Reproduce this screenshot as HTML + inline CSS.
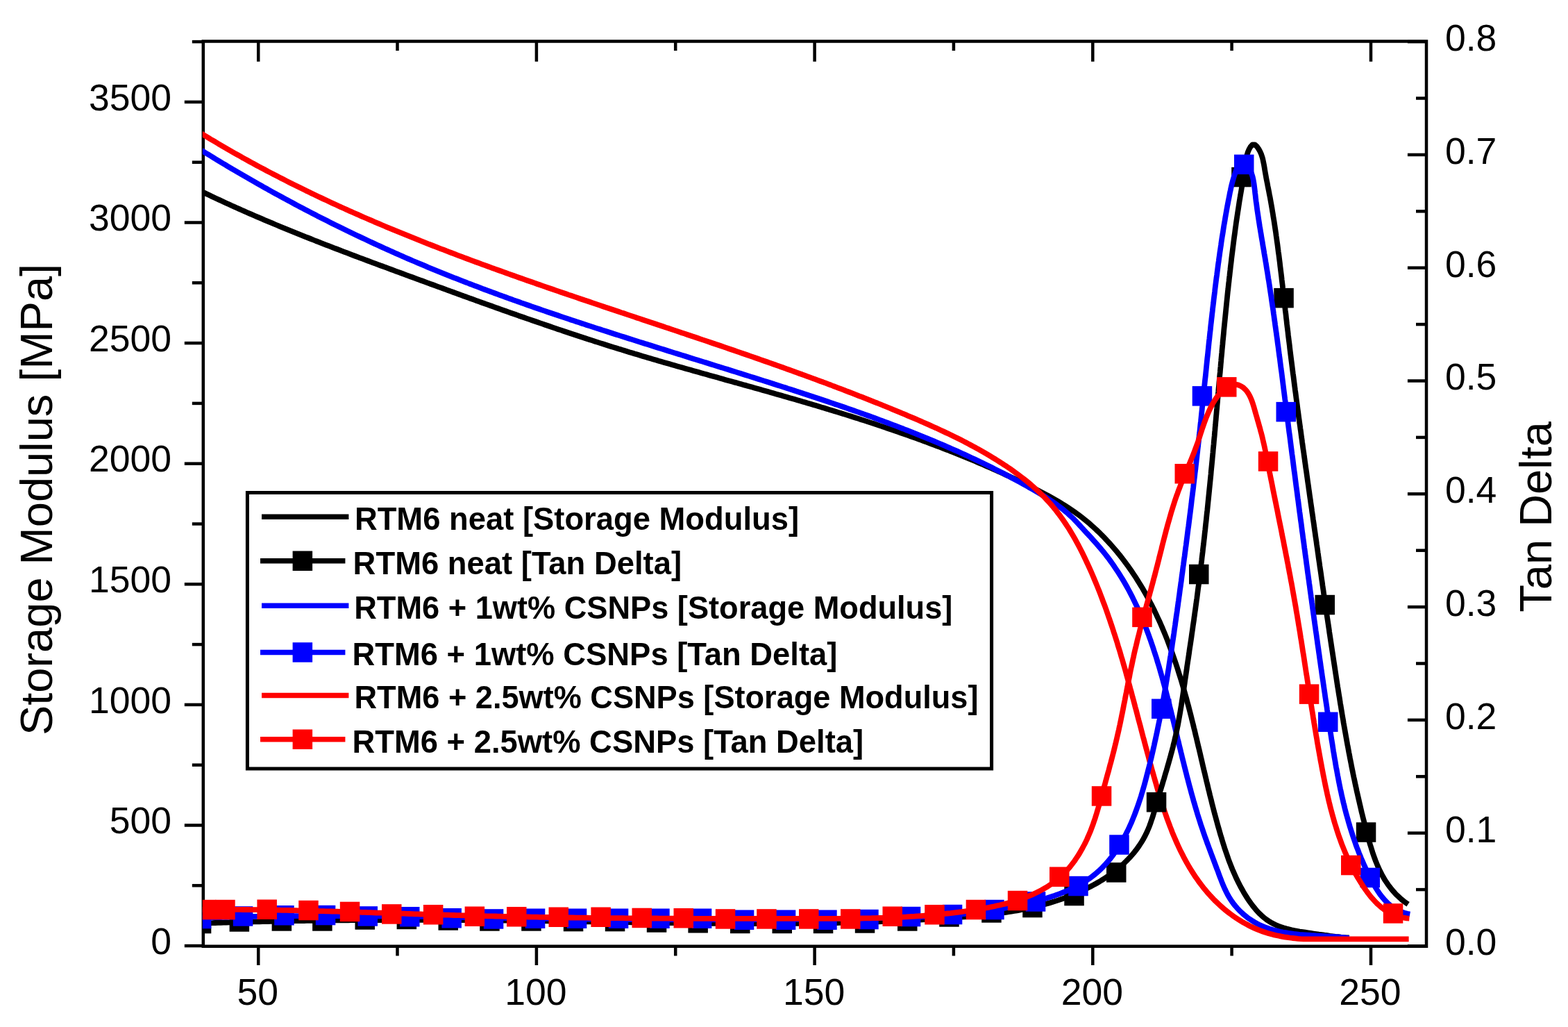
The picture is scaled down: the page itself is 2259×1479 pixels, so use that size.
<!DOCTYPE html>
<html><head><meta charset="utf-8"><title>DMA plot</title>
<style>html,body{margin:0;padding:0;background:#fff;width:2259px;height:1479px;overflow:hidden}svg{display:block}text{font-family:"Liberation Sans",Arial,sans-serif}</style></head><body>
<svg width="2259" height="1479" viewBox="0 0 2259 1479">
<rect width="2259" height="1479" fill="#fff"/>
<defs><clipPath id="pa"><rect x="291.8" y="59.5" width="1763.2" height="1303.3"/></clipPath></defs>
<g stroke="#000" stroke-width="4.5" fill="none" stroke-linecap="square">
<rect x="292.8" y="59.5" width="1762.2" height="1303.3"/>
</g>
<g stroke="#000" stroke-width="4.5" fill="none" stroke-linecap="butt">
<line x1="372.2" y1="1362.8" x2="372.2" y2="1390.0"/><line x1="372.2" y1="59.5" x2="372.2" y2="88.7"/><line x1="572.5" y1="1362.8" x2="572.5" y2="1376.5"/><line x1="572.5" y1="59.5" x2="572.5" y2="73.0"/><line x1="772.9" y1="1362.8" x2="772.9" y2="1390.0"/><line x1="772.9" y1="59.5" x2="772.9" y2="88.7"/><line x1="973.2" y1="1362.8" x2="973.2" y2="1376.5"/><line x1="973.2" y1="59.5" x2="973.2" y2="73.0"/><line x1="1173.6" y1="1362.8" x2="1173.6" y2="1390.0"/><line x1="1173.6" y1="59.5" x2="1173.6" y2="88.7"/><line x1="1373.9" y1="1362.8" x2="1373.9" y2="1376.5"/><line x1="1373.9" y1="59.5" x2="1373.9" y2="73.0"/><line x1="1574.3" y1="1362.8" x2="1574.3" y2="1390.0"/><line x1="1574.3" y1="59.5" x2="1574.3" y2="88.7"/><line x1="1774.6" y1="1362.8" x2="1774.6" y2="1376.5"/><line x1="1774.6" y1="59.5" x2="1774.6" y2="73.0"/><line x1="1975.0" y1="1362.8" x2="1975.0" y2="1390.0"/><line x1="1975.0" y1="59.5" x2="1975.0" y2="88.7"/>
<line x1="265.8" y1="1362.1" x2="292.8" y2="1362.1"/><line x1="276.8" y1="1275.3" x2="292.8" y2="1275.3"/><line x1="265.8" y1="1188.5" x2="292.8" y2="1188.5"/><line x1="276.8" y1="1101.7" x2="292.8" y2="1101.7"/><line x1="265.8" y1="1014.9" x2="292.8" y2="1014.9"/><line x1="276.8" y1="928.1" x2="292.8" y2="928.1"/><line x1="265.8" y1="841.3" x2="292.8" y2="841.3"/><line x1="276.8" y1="754.5" x2="292.8" y2="754.5"/><line x1="265.8" y1="667.7" x2="292.8" y2="667.7"/><line x1="276.8" y1="580.9" x2="292.8" y2="580.9"/><line x1="265.8" y1="494.1" x2="292.8" y2="494.1"/><line x1="276.8" y1="407.3" x2="292.8" y2="407.3"/><line x1="265.8" y1="320.5" x2="292.8" y2="320.5"/><line x1="276.8" y1="233.7" x2="292.8" y2="233.7"/><line x1="265.8" y1="146.9" x2="292.8" y2="146.9"/><line x1="276.8" y1="60.1" x2="292.8" y2="60.1"/>
<line x1="2027.9" y1="1362.5" x2="2055.0" y2="1362.5"/><line x1="2040.0" y1="1281.1" x2="2055.0" y2="1281.1"/><line x1="2027.9" y1="1199.7" x2="2055.0" y2="1199.7"/><line x1="2040.0" y1="1118.3" x2="2055.0" y2="1118.3"/><line x1="2027.9" y1="1036.9" x2="2055.0" y2="1036.9"/><line x1="2040.0" y1="955.5" x2="2055.0" y2="955.5"/><line x1="2027.9" y1="874.1" x2="2055.0" y2="874.1"/><line x1="2040.0" y1="792.7" x2="2055.0" y2="792.7"/><line x1="2027.9" y1="711.3" x2="2055.0" y2="711.3"/><line x1="2040.0" y1="629.9" x2="2055.0" y2="629.9"/><line x1="2027.9" y1="548.5" x2="2055.0" y2="548.5"/><line x1="2040.0" y1="467.1" x2="2055.0" y2="467.1"/><line x1="2027.9" y1="385.7" x2="2055.0" y2="385.7"/><line x1="2040.0" y1="304.3" x2="2055.0" y2="304.3"/><line x1="2027.9" y1="222.9" x2="2055.0" y2="222.9"/><line x1="2040.0" y1="141.5" x2="2055.0" y2="141.5"/><line x1="2027.9" y1="60.1" x2="2055.0" y2="60.1"/>
</g>
<g clip-path="url(#pa)" fill="none" stroke-linejoin="round" stroke-linecap="butt">
<path d="M290.1,275.7 293.7,277.4 297.3,279.1 300.9,280.8 304.5,282.6 308.1,284.3 311.8,286.0 315.4,287.6 319.0,289.3 322.6,291.0 326.3,292.7 329.9,294.3 333.5,296.0 337.2,297.6 340.8,299.2 344.5,300.9 348.1,302.5 351.8,304.1 355.4,305.7 359.1,307.3 362.8,308.9 366.4,310.5 370.1,312.1 373.8,313.7 377.4,315.2 381.1,316.8 384.8,318.3 388.5,319.9 392.2,321.4 395.8,323.0 399.5,324.5 403.2,326.1 406.9,327.6 410.6,329.1 414.3,330.6 418.0,332.1 421.7,333.6 425.4,335.1 429.1,336.6 432.8,338.1 436.5,339.6 440.2,341.1 443.9,342.5 447.7,344.0 451.4,345.5 455.1,347.0 458.8,348.4 462.5,349.9 466.2,351.3 470.0,352.8 473.7,354.2 477.4,355.6 481.1,357.1 484.9,358.5 488.6,359.9 492.3,361.4 496.1,362.8 499.8,364.2 503.5,365.6 507.3,367.1 511.0,368.5 514.7,369.9 518.5,371.3 522.2,372.7 526.0,374.1 529.7,375.5 533.4,376.9 537.2,378.3 540.9,379.7 544.7,381.1 548.4,382.5 552.2,383.8 555.9,385.2 559.7,386.6 563.4,388.0 567.2,389.4 570.9,390.8 574.7,392.2 578.4,393.5 582.1,394.9 585.9,396.3 589.6,397.7 593.4,399.0 597.1,400.4 600.9,401.8 604.6,403.2 608.4,404.5 612.1,405.9 615.9,407.3 619.6,408.7 623.4,410.0 627.1,411.4 630.9,412.8 634.7,414.2 638.4,415.5 642.2,416.9 645.9,418.3 649.7,419.6 653.4,421.0 657.2,422.4 660.9,423.7 664.7,425.1 668.4,426.5 672.2,427.8 675.9,429.2 679.7,430.5 683.5,431.9 687.2,433.3 691.0,434.6 694.7,436.0 698.5,437.3 702.3,438.7 706.0,440.0 709.8,441.3 713.5,442.7 717.3,444.0 721.1,445.4 724.8,446.7 728.6,448.0 732.4,449.4 736.1,450.7 739.9,452.0 743.7,453.3 747.4,454.7 751.2,456.0 755.0,457.3 758.7,458.6 762.5,459.9 766.3,461.2 770.1,462.5 773.8,463.8 777.6,465.1 781.4,466.4 785.2,467.7 789.0,469.0 792.7,470.3 796.5,471.6 800.3,472.9 804.1,474.2 807.9,475.4 811.7,476.7 815.5,478.0 819.2,479.2 823.0,480.5 826.8,481.7 830.6,483.0 834.4,484.3 838.2,485.5 842.0,486.7 845.8,488.0 849.6,489.2 853.4,490.4 857.2,491.7 861.0,492.9 864.8,494.1 868.6,495.3 872.4,496.5 876.2,497.7 880.1,498.9 883.9,500.1 887.7,501.3 891.5,502.5 895.3,503.6 899.1,504.8 903.0,506.0 906.8,507.2 910.6,508.3 914.4,509.5 918.2,510.6 922.1,511.8 925.9,512.9 929.7,514.0 933.6,515.2 937.4,516.3 941.2,517.4 945.1,518.5 948.9,519.7 952.7,520.8 956.6,521.9 960.4,523.0 964.2,524.1 968.1,525.2 971.9,526.3 975.8,527.4 979.6,528.5 983.4,529.6 987.3,530.7 991.1,531.8 995.0,532.8 998.8,533.9 1002.7,535.0 1006.5,536.1 1010.4,537.2 1014.2,538.3 1018.1,539.3 1021.9,540.4 1025.7,541.5 1029.6,542.6 1033.4,543.6 1037.3,544.7 1041.1,545.8 1045.0,546.9 1048.8,547.9 1052.7,549.0 1056.5,550.1 1060.4,551.1 1064.2,552.2 1068.1,553.3 1071.9,554.4 1075.8,555.4 1079.6,556.5 1083.5,557.6 1087.3,558.7 1091.2,559.8 1095.0,560.8 1098.8,561.9 1102.7,563.0 1106.5,564.1 1110.4,565.2 1114.2,566.3 1118.1,567.4 1121.9,568.5 1125.7,569.6 1129.6,570.7 1133.4,571.8 1137.3,572.9 1141.1,574.0 1144.9,575.1 1148.8,576.2 1152.6,577.3 1156.4,578.4 1160.3,579.6 1164.1,580.7 1167.9,581.8 1171.8,583.0 1175.6,584.1 1179.4,585.2 1183.2,586.4 1187.1,587.5 1190.9,588.7 1194.7,589.9 1198.5,591.0 1202.4,592.2 1206.2,593.4 1210.0,594.6 1213.8,595.7 1217.6,596.9 1221.4,598.1 1225.2,599.3 1229.0,600.5 1232.9,601.7 1236.7,602.9 1240.5,604.2 1244.3,605.4 1248.1,606.6 1251.9,607.9 1255.7,609.1 1259.5,610.3 1263.3,611.6 1267.0,612.9 1270.8,614.1 1274.6,615.4 1278.4,616.7 1282.2,618.0 1286.0,619.2 1289.7,620.5 1293.5,621.9 1297.3,623.2 1301.1,624.5 1304.8,625.8 1308.6,627.1 1312.4,628.5 1316.1,629.8 1319.9,631.2 1323.6,632.5 1327.4,633.9 1331.1,635.3 1334.9,636.7 1338.6,638.1 1342.4,639.5 1346.1,640.9 1349.8,642.3 1353.6,643.7 1357.3,645.1 1361.0,646.6 1364.8,648.0 1368.5,649.5 1372.2,650.9 1375.9,652.4 1379.6,653.9 1383.3,655.4 1387.0,656.9 1390.7,658.4 1394.4,659.9 1398.1,661.5 1401.8,663.0 1405.5,664.5 1409.1,666.1 1412.8,667.7 1416.5,669.2 1420.2,670.8 1423.8,672.4 1427.5,674.0 1431.1,675.6 1434.8,677.3 1438.4,678.9 1442.1,680.5 1445.7,682.2 1449.3,683.9 1453.0,685.5 1456.6,687.2 1460.2,688.9 1463.8,690.6 1467.4,692.4 1471.0,694.1 1474.6,695.8 1478.2,697.6 1481.8,699.4 1485.4,701.1 1488.9,702.9 1492.5,704.7 1496.0,706.5 1499.6,708.4 1503.1,710.2 1506.7,712.1 1510.2,714.0 1513.7,715.9 1517.2,717.9 1520.6,719.8 1524.1,721.9 1527.5,723.9 1530.9,726.0 1534.3,728.1 1537.7,730.2 1541.0,732.4 1544.3,734.7 1547.6,736.9 1550.9,739.3 1554.1,741.6 1557.3,744.0 1560.4,746.5 1563.5,749.0 1566.6,751.5 1569.7,754.1 1572.7,756.8 1575.6,759.4 1578.6,762.1 1581.5,764.9 1584.4,767.6 1587.2,770.5 1590.0,773.3 1592.8,776.2 1595.5,779.1 1598.2,782.0 1600.9,785.0 1603.5,788.0 1606.1,791.0 1608.7,794.1 1611.3,797.2 1613.8,800.3 1616.2,803.4 1618.7,806.6 1621.1,809.8 1623.4,813.0 1625.8,816.2 1628.1,819.5 1630.4,822.8 1632.6,826.1 1634.8,829.4 1637.0,832.7 1639.1,836.1 1641.2,839.5 1643.3,842.9 1645.4,846.3 1647.4,849.8 1649.4,853.3 1651.3,856.7 1653.3,860.2 1655.2,863.7 1657.0,867.3 1658.9,870.8 1660.7,874.4 1662.5,878.0 1664.2,881.6 1665.9,885.2 1667.6,888.8 1669.3,892.4 1671.0,896.0 1672.6,899.7 1674.2,903.4 1675.7,907.0 1677.3,910.7 1678.8,914.4 1680.3,918.1 1681.8,921.8 1683.2,925.5 1684.6,929.3 1686.0,933.0 1687.4,936.8 1688.8,940.5 1690.1,944.3 1691.4,948.1 1692.7,951.8 1694.0,955.6 1695.3,959.4 1696.5,963.2 1697.7,967.0 1698.9,970.8 1700.1,974.6 1701.3,978.4 1702.5,982.3 1703.6,986.1 1704.7,989.9 1705.8,993.8 1706.9,997.6 1708.0,1001.5 1709.1,1005.3 1710.1,1009.2 1711.1,1013.0 1712.2,1016.9 1713.2,1020.7 1714.2,1024.6 1715.2,1028.5 1716.2,1032.4 1717.1,1036.2 1718.1,1040.1 1719.1,1044.0 1720.0,1047.9 1721.0,1051.7 1721.9,1055.6 1722.8,1059.5 1723.8,1063.4 1724.7,1067.3 1725.6,1071.2 1726.5,1075.1 1727.5,1078.9 1728.4,1082.8 1729.3,1086.7 1730.2,1090.6 1731.1,1094.5 1732.0,1098.4 1732.9,1102.3 1733.8,1106.2 1734.7,1110.1 1735.7,1113.9 1736.6,1117.8 1737.5,1121.7 1738.4,1125.6 1739.4,1129.5 1740.3,1133.4 1741.2,1137.3 1742.2,1141.1 1743.1,1145.0 1744.1,1148.9 1745.1,1152.8 1746.0,1156.6 1747.0,1160.5 1748.0,1164.4 1749.0,1168.2 1750.0,1172.1 1751.1,1176.0 1752.1,1179.8 1753.2,1183.7 1754.2,1187.5 1755.3,1191.4 1756.4,1195.2 1757.5,1199.1 1758.6,1202.9 1759.8,1206.7 1760.9,1210.5 1762.1,1214.4 1763.3,1218.2 1764.5,1222.0 1765.8,1225.8 1767.1,1229.5 1768.4,1233.3 1769.7,1237.1 1771.1,1240.8 1772.6,1244.6 1774.0,1248.3 1775.5,1252.0 1777.1,1255.6 1778.7,1259.3 1780.3,1262.9 1782.0,1266.6 1783.8,1270.2 1785.6,1273.7 1787.4,1277.3 1789.4,1280.8 1791.3,1284.2 1793.4,1287.7 1795.5,1291.1 1797.6,1294.4 1799.9,1297.7 1802.2,1301.0 1804.6,1304.2 1807.1,1307.3 1809.6,1310.4 1812.3,1313.3 1815.1,1316.2 1818.0,1318.9 1821.0,1321.5 1824.2,1324.0 1827.5,1326.3 1830.9,1328.4 1834.4,1330.3 1838.0,1332.0 1841.6,1333.6 1845.4,1335.0 1849.2,1336.2 1853.0,1337.3 1856.9,1338.3 1860.8,1339.3 1864.7,1340.1 1868.6,1340.8 1872.5,1341.5 1876.5,1342.1 1880.4,1342.7 1884.4,1343.3 1888.3,1343.9 1892.3,1344.5 1896.2,1345.0 1900.2,1345.6 1904.2,1346.1 1908.1,1346.7 1912.1,1347.2 1916.0,1347.8 1920.0,1348.3 1924.0,1348.8 1927.9,1349.2 1931.9,1349.7 1935.9,1350.1 1939.8,1350.5 1943.8,1350.5" stroke="#000" stroke-width="7.8"/>
<path d="M290.2,216.5 293.6,218.6 297.0,220.7 300.4,222.7 303.8,224.8 307.2,226.9 310.6,229.0 314.1,231.1 317.5,233.1 320.9,235.2 324.3,237.2 327.8,239.3 331.2,241.3 334.6,243.4 338.1,245.4 341.5,247.4 345.0,249.4 348.4,251.4 351.9,253.4 355.4,255.4 358.8,257.4 362.3,259.4 365.8,261.4 369.2,263.4 372.7,265.4 376.2,267.3 379.7,269.3 383.2,271.2 386.6,273.2 390.1,275.1 393.6,277.1 397.1,279.0 400.6,280.9 404.1,282.8 407.7,284.7 411.2,286.6 414.7,288.5 418.2,290.4 421.7,292.3 425.2,294.2 428.8,296.1 432.3,298.0 435.8,299.8 439.4,301.7 442.9,303.5 446.5,305.4 450.0,307.2 453.6,309.0 457.1,310.9 460.7,312.7 464.2,314.5 467.8,316.3 471.4,318.1 475.0,319.9 478.5,321.7 482.1,323.5 485.7,325.2 489.3,327.0 492.9,328.8 496.4,330.5 500.0,332.3 503.6,334.0 507.2,335.8 510.8,337.5 514.4,339.2 518.1,340.9 521.7,342.6 525.3,344.3 528.9,346.0 532.5,347.7 536.1,349.4 539.8,351.1 543.4,352.8 547.0,354.4 550.7,356.1 554.3,357.7 558.0,359.4 561.6,361.0 565.2,362.6 568.9,364.3 572.6,365.9 576.2,367.5 579.9,369.1 583.5,370.7 587.2,372.3 590.9,373.9 594.5,375.5 598.2,377.0 601.9,378.6 605.6,380.1 609.3,381.7 612.9,383.2 616.6,384.8 620.3,386.3 624.0,387.8 627.7,389.3 631.4,390.8 635.1,392.3 638.8,393.8 642.5,395.3 646.3,396.8 650.0,398.3 653.7,399.8 657.4,401.2 661.1,402.7 664.8,404.1 668.6,405.6 672.3,407.0 676.0,408.5 679.8,409.9 683.5,411.3 687.2,412.7 691.0,414.1 694.7,415.6 698.4,417.0 702.2,418.4 705.9,419.7 709.7,421.1 713.4,422.5 717.2,423.9 720.9,425.3 724.7,426.6 728.5,428.0 732.2,429.4 736.0,430.7 739.7,432.1 743.5,433.4 747.3,434.7 751.0,436.1 754.8,437.4 758.6,438.7 762.3,440.0 766.1,441.4 769.9,442.7 773.7,444.0 777.4,445.3 781.2,446.6 785.0,447.9 788.8,449.2 792.6,450.5 796.4,451.8 800.1,453.0 803.9,454.3 807.7,455.6 811.5,456.9 815.3,458.1 819.1,459.4 822.9,460.7 826.7,461.9 830.5,463.2 834.3,464.4 838.1,465.7 841.8,466.9 845.6,468.2 849.4,469.4 853.2,470.6 857.0,471.9 860.8,473.1 864.6,474.3 868.5,475.6 872.3,476.8 876.1,478.0 879.9,479.2 883.7,480.5 887.5,481.7 891.3,482.9 895.1,484.1 898.9,485.3 902.7,486.5 906.5,487.7 910.3,488.9 914.1,490.1 918.0,491.4 921.8,492.6 925.6,493.8 929.4,495.0 933.2,496.1 937.0,497.3 940.8,498.5 944.6,499.7 948.5,500.9 952.3,502.1 956.1,503.3 959.9,504.5 963.7,505.7 967.5,506.9 971.3,508.1 975.2,509.3 979.0,510.4 982.8,511.6 986.6,512.8 990.4,514.0 994.2,515.2 998.1,516.4 1001.9,517.6 1005.7,518.8 1009.5,519.9 1013.3,521.1 1017.1,522.3 1021.0,523.5 1024.8,524.7 1028.6,525.9 1032.4,527.1 1036.2,528.3 1040.0,529.4 1043.8,530.6 1047.7,531.8 1051.5,533.0 1055.3,534.2 1059.1,535.4 1062.9,536.6 1066.7,537.8 1070.5,539.0 1074.4,540.2 1078.2,541.4 1082.0,542.6 1085.8,543.8 1089.6,545.0 1093.4,546.2 1097.2,547.4 1101.0,548.6 1104.8,549.8 1108.7,551.0 1112.5,552.2 1116.3,553.5 1120.1,554.7 1123.9,555.9 1127.7,557.1 1131.5,558.3 1135.3,559.6 1139.1,560.8 1142.9,562.0 1146.7,563.3 1150.5,564.5 1154.3,565.7 1158.1,567.0 1161.9,568.2 1165.7,569.5 1169.5,570.7 1173.3,572.0 1177.1,573.2 1180.9,574.5 1184.7,575.8 1188.4,577.0 1192.2,578.3 1196.0,579.6 1199.8,580.9 1203.6,582.2 1207.4,583.4 1211.2,584.7 1214.9,586.0 1218.7,587.3 1222.5,588.7 1226.3,590.0 1230.0,591.3 1233.8,592.6 1237.6,593.9 1241.3,595.3 1245.1,596.6 1248.9,598.0 1252.6,599.3 1256.4,600.7 1260.1,602.0 1263.9,603.4 1267.6,604.8 1271.4,606.2 1275.1,607.6 1278.9,609.0 1282.6,610.4 1286.4,611.8 1290.1,613.2 1293.8,614.6 1297.6,616.1 1301.3,617.5 1305.0,619.0 1308.7,620.4 1312.5,621.9 1316.2,623.4 1319.9,624.8 1323.6,626.3 1327.3,627.8 1331.0,629.3 1334.7,630.8 1338.4,632.4 1342.1,633.9 1345.8,635.4 1349.5,637.0 1353.1,638.5 1356.8,640.1 1360.5,641.7 1364.2,643.3 1367.8,644.9 1371.5,646.5 1375.1,648.1 1378.8,649.7 1382.4,651.3 1386.1,653.0 1389.7,654.6 1393.3,656.3 1397.0,658.0 1400.6,659.7 1404.2,661.4 1407.8,663.1 1411.4,664.8 1415.0,666.5 1418.6,668.3 1422.2,670.0 1425.8,671.8 1429.4,673.6 1433.0,675.4 1436.5,677.2 1440.1,679.0 1443.6,680.8 1447.2,682.6 1450.7,684.5 1454.3,686.3 1457.8,688.2 1461.3,690.1 1464.9,692.0 1468.4,693.9 1471.9,695.8 1475.4,697.7 1478.9,699.7 1482.3,701.7 1485.8,703.6 1489.3,705.6 1492.7,707.6 1496.2,709.6 1499.6,711.7 1503.0,713.8 1506.4,715.9 1509.8,718.0 1513.1,720.2 1516.4,722.5 1519.7,724.7 1523.0,727.1 1526.2,729.5 1529.3,731.9 1532.5,734.4 1535.5,736.9 1538.6,739.6 1541.5,742.3 1544.4,745.0 1547.3,747.8 1550.0,750.7 1552.8,753.6 1555.5,756.5 1558.2,759.5 1560.9,762.4 1563.6,765.3 1566.3,768.3 1569.1,771.2 1571.8,774.1 1574.4,777.1 1577.1,780.1 1579.8,783.1 1582.4,786.1 1585.0,789.1 1587.6,792.2 1590.1,795.3 1592.6,798.4 1595.0,801.5 1597.5,804.7 1599.8,807.9 1602.2,811.2 1604.5,814.5 1606.7,817.8 1608.9,821.1 1611.1,824.4 1613.3,827.8 1615.4,831.2 1617.5,834.6 1619.5,838.0 1621.5,841.5 1623.5,845.0 1625.4,848.5 1627.3,852.0 1629.1,855.5 1631.0,859.1 1632.7,862.7 1634.5,866.3 1636.2,869.9 1637.9,873.5 1639.6,877.1 1641.2,880.8 1642.8,884.4 1644.4,888.1 1645.9,891.8 1647.5,895.5 1649.0,899.2 1650.4,902.9 1651.9,906.6 1653.3,910.4 1654.7,914.1 1656.0,917.9 1657.4,921.6 1658.7,925.4 1660.0,929.2 1661.3,933.0 1662.5,936.8 1663.7,940.6 1665.0,944.4 1666.2,948.2 1667.3,952.0 1668.5,955.8 1669.7,959.7 1670.8,963.5 1671.9,967.3 1673.0,971.2 1674.1,975.0 1675.2,978.9 1676.2,982.7 1677.3,986.6 1678.3,990.4 1679.4,994.3 1680.4,998.2 1681.4,1002.0 1682.4,1005.9 1683.4,1009.8 1684.4,1013.6 1685.3,1017.5 1686.3,1021.4 1687.3,1025.3 1688.2,1029.2 1689.2,1033.0 1690.1,1036.9 1691.1,1040.8 1692.0,1044.7 1693.0,1048.6 1693.9,1052.5 1694.9,1056.3 1695.8,1060.2 1696.7,1064.1 1697.7,1068.0 1698.6,1071.9 1699.5,1075.8 1700.5,1079.6 1701.4,1083.5 1702.4,1087.4 1703.3,1091.3 1704.3,1095.2 1705.3,1099.1 1706.2,1102.9 1707.2,1106.8 1708.2,1110.7 1709.2,1114.6 1710.1,1118.4 1711.2,1122.3 1712.2,1126.2 1713.2,1130.0 1714.2,1133.9 1715.3,1137.7 1716.3,1141.6 1717.4,1145.5 1718.5,1149.3 1719.5,1153.1 1720.7,1157.0 1721.8,1160.8 1722.9,1164.7 1724.1,1168.5 1725.2,1172.3 1726.4,1176.1 1727.6,1179.9 1728.8,1183.7 1730.0,1187.5 1731.3,1191.3 1732.6,1195.1 1733.9,1198.9 1735.2,1202.7 1736.5,1206.5 1737.9,1210.2 1739.2,1214.0 1740.6,1217.7 1742.0,1221.5 1743.4,1225.2 1744.8,1229.0 1746.2,1232.7 1747.6,1236.4 1749.0,1240.2 1750.4,1243.9 1751.8,1247.7 1753.2,1251.4 1754.7,1255.1 1756.0,1258.9 1757.4,1262.6 1758.9,1266.4 1760.3,1270.1 1761.8,1273.8 1763.4,1277.5 1765.0,1281.1 1766.8,1284.7 1768.6,1288.2 1770.6,1291.7 1772.7,1295.1 1774.9,1298.4 1777.3,1301.7 1779.8,1304.8 1782.4,1307.8 1785.1,1310.7 1788.0,1313.5 1790.9,1316.2 1794.0,1318.8 1797.1,1321.3 1800.3,1323.6 1803.7,1325.8 1807.1,1327.9 1810.6,1329.9 1814.1,1331.7 1817.8,1333.4 1821.4,1334.9 1825.2,1336.3 1829.0,1337.6 1832.8,1338.8 1836.6,1339.9 1840.5,1340.8 1844.4,1341.7 1848.3,1342.5 1852.3,1343.2 1856.2,1343.8 1860.2,1344.4 1864.1,1344.9 1868.1,1345.3 1872.1,1345.8 1876.1,1346.1 1880.0,1346.4 1884.0,1346.7 1888.0,1347.0 1892.0,1347.2 1896.0,1347.5 1900.0,1347.7 1904.0,1347.9 1908.0,1348.1 1912.0,1348.3 1915.9,1348.6 1919.9,1348.8 1923.9,1349.1 1927.9,1349.4 1931.9,1349.8 1935.9,1350.2 1939.8,1350.6 1943.8,1351.0" stroke="#00f" stroke-width="7.8"/>
<path d="M290.3,192.4 293.7,194.5 297.1,196.5 300.5,198.6 303.9,200.7 307.3,202.7 310.8,204.7 314.2,206.8 317.7,208.8 321.1,210.8 324.6,212.8 328.0,214.8 331.5,216.8 334.9,218.8 338.4,220.8 341.9,222.7 345.4,224.7 348.8,226.7 352.3,228.6 355.8,230.5 359.3,232.5 362.8,234.4 366.3,236.3 369.8,238.2 373.4,240.1 376.9,242.0 380.4,243.8 383.9,245.7 387.5,247.6 391.0,249.4 394.5,251.3 398.1,253.1 401.6,254.9 405.2,256.8 408.8,258.6 412.3,260.4 415.9,262.2 419.4,264.0 423.0,265.8 426.6,267.5 430.2,269.3 433.8,271.1 437.3,272.8 440.9,274.6 444.5,276.3 448.1,278.1 451.7,279.8 455.3,281.5 458.9,283.2 462.5,284.9 466.1,286.6 469.8,288.3 473.4,290.0 477.0,291.7 480.6,293.4 484.3,295.0 487.9,296.7 491.5,298.4 495.2,300.0 498.8,301.6 502.4,303.3 506.1,304.9 509.7,306.5 513.4,308.1 517.1,309.7 520.7,311.4 524.4,313.0 528.0,314.5 531.7,316.1 535.4,317.7 539.0,319.3 542.7,320.8 546.4,322.4 550.1,324.0 553.7,325.5 557.4,327.1 561.1,328.6 564.8,330.1 568.5,331.7 572.2,333.2 575.9,334.7 579.6,336.2 583.3,337.7 587.0,339.2 590.7,340.7 594.4,342.2 598.1,343.7 601.8,345.2 605.5,346.7 609.2,348.1 612.9,349.6 616.6,351.1 620.3,352.5 624.1,354.0 627.8,355.4 631.5,356.9 635.2,358.3 639.0,359.7 642.7,361.2 646.4,362.6 650.1,364.0 653.9,365.4 657.6,366.9 661.4,368.3 665.1,369.7 668.8,371.1 672.6,372.5 676.3,373.9 680.1,375.3 683.8,376.7 687.5,378.0 691.3,379.4 695.0,380.8 698.8,382.2 702.5,383.5 706.3,384.9 710.0,386.3 713.8,387.6 717.6,389.0 721.3,390.3 725.1,391.7 728.8,393.0 732.6,394.4 736.4,395.7 740.1,397.0 743.9,398.4 747.6,399.7 751.4,401.0 755.2,402.4 758.9,403.7 762.7,405.0 766.5,406.3 770.3,407.6 774.0,409.0 777.8,410.3 781.6,411.6 785.3,412.9 789.1,414.2 792.9,415.5 796.7,416.8 800.4,418.1 804.2,419.4 808.0,420.7 811.8,422.0 815.6,423.3 819.3,424.6 823.1,425.8 826.9,427.1 830.7,428.4 834.5,429.7 838.2,431.0 842.0,432.3 845.8,433.5 849.6,434.8 853.4,436.1 857.2,437.4 860.9,438.6 864.7,439.9 868.5,441.2 872.3,442.5 876.1,443.7 879.9,445.0 883.7,446.3 887.4,447.5 891.2,448.8 895.0,450.1 898.8,451.3 902.6,452.6 906.4,453.9 910.2,455.1 914.0,456.4 917.7,457.7 921.5,458.9 925.3,460.2 929.1,461.5 932.9,462.7 936.7,464.0 940.5,465.2 944.3,466.5 948.0,467.8 951.8,469.0 955.6,470.3 959.4,471.6 963.2,472.8 967.0,474.1 970.8,475.4 974.6,476.6 978.3,477.9 982.1,479.2 985.9,480.4 989.7,481.7 993.5,483.0 997.3,484.3 1001.1,485.5 1004.8,486.8 1008.6,488.1 1012.4,489.4 1016.2,490.6 1020.0,491.9 1023.8,493.2 1027.5,494.5 1031.3,495.8 1035.1,497.0 1038.9,498.3 1042.7,499.6 1046.4,500.9 1050.2,502.2 1054.0,503.5 1057.8,504.8 1061.5,506.1 1065.3,507.4 1069.1,508.7 1072.9,510.0 1076.6,511.3 1080.4,512.6 1084.2,513.9 1088.0,515.2 1091.7,516.5 1095.5,517.9 1099.3,519.2 1103.0,520.5 1106.8,521.8 1110.6,523.2 1114.3,524.5 1118.1,525.8 1121.9,527.2 1125.6,528.5 1129.4,529.8 1133.1,531.2 1136.9,532.5 1140.7,533.9 1144.4,535.2 1148.2,536.6 1151.9,538.0 1155.7,539.3 1159.4,540.7 1163.2,542.1 1166.9,543.4 1170.7,544.8 1174.4,546.2 1178.2,547.6 1181.9,549.0 1185.7,550.3 1189.4,551.7 1193.1,553.1 1196.9,554.5 1200.6,556.0 1204.4,557.4 1208.1,558.8 1211.8,560.2 1215.6,561.6 1219.3,563.1 1223.0,564.5 1226.7,565.9 1230.5,567.4 1234.2,568.8 1237.9,570.3 1241.6,571.7 1245.3,573.2 1249.0,574.6 1252.8,576.1 1256.5,577.6 1260.2,579.1 1263.9,580.5 1267.6,582.0 1271.3,583.5 1275.0,585.0 1278.7,586.5 1282.4,588.0 1286.1,589.6 1289.8,591.1 1293.5,592.6 1297.2,594.1 1300.8,595.7 1304.5,597.2 1308.2,598.8 1311.9,600.3 1315.6,601.9 1319.2,603.4 1322.9,605.0 1326.6,606.6 1330.2,608.2 1333.9,609.8 1337.5,611.4 1341.2,613.1 1344.8,614.7 1348.5,616.3 1352.1,618.0 1355.7,619.7 1359.3,621.4 1362.9,623.1 1366.6,624.8 1370.1,626.5 1373.7,628.3 1377.3,630.0 1380.9,631.8 1384.5,633.6 1388.0,635.4 1391.6,637.3 1395.1,639.1 1398.6,641.0 1402.1,642.9 1405.7,644.8 1409.1,646.7 1412.6,648.7 1416.1,650.7 1419.6,652.7 1423.0,654.7 1426.4,656.7 1429.9,658.8 1433.3,660.9 1436.7,663.0 1440.0,665.1 1443.4,667.2 1446.7,669.4 1450.1,671.6 1453.4,673.9 1456.7,676.1 1459.9,678.4 1463.2,680.8 1466.4,683.1 1469.6,685.5 1472.8,688.0 1475.9,690.4 1479.0,692.9 1482.1,695.4 1485.2,698.0 1488.2,700.6 1491.2,703.3 1494.1,706.0 1497.0,708.7 1499.9,711.5 1502.8,714.3 1505.6,717.1 1508.3,720.0 1511.0,722.9 1513.7,725.9 1516.3,728.9 1518.8,732.0 1521.4,735.1 1523.8,738.3 1526.2,741.4 1528.6,744.7 1530.9,747.9 1533.2,751.2 1535.4,754.5 1537.6,757.8 1539.8,761.2 1541.9,764.6 1543.9,768.0 1546.0,771.5 1548.0,774.9 1549.9,778.4 1551.8,781.9 1553.7,785.4 1555.6,789.0 1557.4,792.5 1559.2,796.1 1561.0,799.7 1562.7,803.2 1564.4,806.9 1566.1,810.5 1567.8,814.1 1569.4,817.7 1571.1,821.4 1572.7,825.0 1574.3,828.7 1575.8,832.4 1577.4,836.1 1578.9,839.7 1580.4,843.4 1581.9,847.1 1583.4,850.8 1584.9,854.6 1586.3,858.3 1587.7,862.0 1589.1,865.8 1590.5,869.5 1591.9,873.2 1593.3,877.0 1594.6,880.8 1595.9,884.5 1597.2,888.3 1598.6,892.1 1599.8,895.9 1601.1,899.6 1602.4,903.4 1603.6,907.2 1604.8,911.0 1606.1,914.8 1607.3,918.6 1608.5,922.4 1609.7,926.2 1610.8,930.1 1612.0,933.9 1613.2,937.7 1614.3,941.5 1615.4,945.4 1616.6,949.2 1617.7,953.0 1618.8,956.9 1619.9,960.7 1621.0,964.5 1622.1,968.4 1623.1,972.2 1624.2,976.1 1625.3,979.9 1626.3,983.8 1627.4,987.6 1628.4,991.5 1629.5,995.3 1630.5,999.2 1631.5,1003.1 1632.6,1006.9 1633.6,1010.8 1634.6,1014.6 1635.6,1018.5 1636.7,1022.3 1637.7,1026.2 1638.7,1030.1 1639.7,1033.9 1640.7,1037.8 1641.8,1041.7 1642.8,1045.5 1643.8,1049.4 1644.8,1053.2 1645.8,1057.1 1646.8,1061.0 1647.9,1064.8 1648.9,1068.7 1649.9,1072.5 1650.9,1076.4 1652.0,1080.3 1653.0,1084.1 1654.1,1088.0 1655.1,1091.8 1656.1,1095.7 1657.2,1099.5 1658.3,1103.4 1659.3,1107.2 1660.4,1111.1 1661.5,1114.9 1662.6,1118.8 1663.7,1122.6 1664.8,1126.4 1665.9,1130.3 1667.0,1134.1 1668.1,1137.9 1669.3,1141.8 1670.4,1145.6 1671.6,1149.4 1672.8,1153.2 1674.0,1157.0 1675.3,1160.8 1676.5,1164.6 1677.8,1168.4 1679.1,1172.2 1680.4,1175.9 1681.7,1179.7 1683.1,1183.4 1684.5,1187.2 1685.9,1190.9 1687.4,1194.6 1688.8,1198.4 1690.3,1202.0 1691.9,1205.7 1693.5,1209.4 1695.1,1213.1 1696.7,1216.7 1698.4,1220.3 1700.1,1223.9 1701.9,1227.5 1703.7,1231.1 1705.5,1234.6 1707.4,1238.1 1709.3,1241.6 1711.3,1245.1 1713.3,1248.6 1715.4,1252.0 1717.5,1255.4 1719.6,1258.7 1721.8,1262.1 1724.1,1265.3 1726.4,1268.6 1728.8,1271.8 1731.2,1275.0 1733.6,1278.2 1736.2,1281.3 1738.7,1284.3 1741.4,1287.3 1744.0,1290.3 1746.8,1293.2 1749.5,1296.1 1752.4,1298.9 1755.3,1301.6 1758.2,1304.3 1761.2,1307.0 1764.2,1309.6 1767.3,1312.1 1770.5,1314.6 1773.7,1317.0 1776.9,1319.3 1780.2,1321.6 1783.5,1323.8 1786.9,1325.9 1790.3,1328.0 1793.8,1329.9 1797.3,1331.8 1800.8,1333.7 1804.4,1335.4 1808.1,1337.1 1811.7,1338.6 1815.5,1340.1 1819.2,1341.5 1823.0,1342.8 1826.8,1343.9 1830.6,1345.0 1834.5,1346.1 1838.4,1347.0 1842.3,1347.8 1846.2,1348.6 1850.1,1349.3 1854.1,1349.9 1858.0,1350.5 1862.0,1351.0 1866.0,1351.4 1869.9,1351.8 1873.9,1352.1 1877.9,1352.3 1881.9,1352.3 1885.9,1352.3 1889.9,1352.3 1893.9,1352.3 1897.9,1352.3 1901.9,1352.3 1905.8,1352.3 1909.8,1352.3 1913.8,1352.3 1917.8,1352.3 1921.8,1352.3 1925.8,1352.3 1929.8,1352.3 1933.8,1352.3 1937.8,1352.3 1941.8,1352.3 1945.8,1352.3 1949.8,1352.3 1953.8,1352.3 1957.7,1352.3 1961.7,1352.3 1965.7,1352.3 1969.7,1352.3 1973.7,1352.3 1977.7,1352.3 1981.7,1352.3 1985.7,1352.3 1989.7,1352.3 1993.7,1352.3 1997.7,1352.3 2001.7,1352.3 2005.7,1352.3 2009.6,1352.3 2013.6,1352.3 2017.6,1352.3 2021.6,1352.3 2025.6,1352.3 2029.6,1352.3" stroke="#f00" stroke-width="7.8"/>
<path d="M290.0,1329.7 294.0,1329.6 298.0,1329.4 302.0,1329.3 306.0,1329.2 310.0,1329.0 314.0,1328.9 318.0,1328.8 322.0,1328.7 326.0,1328.5 330.0,1328.4 334.0,1328.3 338.0,1328.2 342.0,1328.1 346.0,1328.0 350.0,1327.9 354.0,1327.7 358.0,1327.6 362.0,1327.5 366.0,1327.4 370.0,1327.3 374.0,1327.3 378.0,1327.2 382.0,1327.1 386.0,1327.0 390.0,1326.9 394.0,1326.8 398.0,1326.7 402.0,1326.6 406.0,1326.6 410.0,1326.5 414.0,1326.4 418.0,1326.3 422.0,1326.3 425.9,1326.2 429.9,1326.1 433.9,1326.1 437.9,1326.0 441.9,1325.9 445.9,1325.9 449.9,1325.8 453.9,1325.8 457.9,1325.7 461.9,1325.7 465.9,1325.6 469.9,1325.6 473.9,1325.5 477.9,1325.5 481.9,1325.4 485.9,1325.4 489.9,1325.4 493.9,1325.3 497.9,1325.3 501.9,1325.3 505.9,1325.2 509.9,1325.2 513.9,1325.2 517.9,1325.1 521.9,1325.1 525.9,1325.1 529.9,1325.1 533.9,1325.0 537.9,1325.0 541.9,1325.0 545.9,1325.0 549.9,1325.0 553.9,1325.0 557.9,1324.9 561.9,1324.9 565.9,1324.9 569.9,1324.9 573.9,1324.9 577.9,1324.9 581.9,1324.9 585.9,1324.9 589.9,1324.9 593.9,1324.9 597.9,1324.9 601.9,1324.9 605.9,1324.9 609.9,1324.9 613.9,1324.9 617.9,1324.9 621.9,1325.0 625.9,1325.0 629.9,1325.0 633.9,1325.0 637.9,1325.0 641.9,1325.0 645.9,1325.1 649.9,1325.1 653.9,1325.1 657.9,1325.1 661.9,1325.1 665.9,1325.2 669.9,1325.2 673.9,1325.2 677.9,1325.2 681.9,1325.3 685.9,1325.3 689.9,1325.3 693.9,1325.4 697.9,1325.4 701.9,1325.4 705.9,1325.5 709.9,1325.5 713.9,1325.5 717.9,1325.6 721.9,1325.6 725.9,1325.7 729.9,1325.7 733.9,1325.7 737.9,1325.8 741.9,1325.8 745.9,1325.9 749.9,1325.9 753.9,1326.0 757.9,1326.0 761.9,1326.1 765.9,1326.1 769.9,1326.2 773.9,1326.2 777.9,1326.3 781.9,1326.3 785.9,1326.4 789.9,1326.4 793.9,1326.5 797.9,1326.5 801.9,1326.6 805.9,1326.6 809.9,1326.7 813.9,1326.8 817.9,1326.8 821.9,1326.9 825.9,1326.9 829.9,1327.0 833.9,1327.1 837.9,1327.1 841.9,1327.2 845.9,1327.3 849.9,1327.3 853.9,1327.4 857.9,1327.4 861.9,1327.5 865.9,1327.6 869.9,1327.6 873.9,1327.7 877.9,1327.8 881.9,1327.8 885.9,1327.9 889.9,1328.0 893.9,1328.0 897.9,1328.1 901.9,1328.2 905.9,1328.2 909.9,1328.3 913.9,1328.3 917.9,1328.4 921.9,1328.5 925.9,1328.5 929.9,1328.6 933.9,1328.7 937.9,1328.7 941.9,1328.8 945.9,1328.8 949.9,1328.9 953.8,1329.0 957.8,1329.0 961.8,1329.1 965.8,1329.1 969.8,1329.2 973.8,1329.2 977.8,1329.3 981.8,1329.3 985.8,1329.4 989.8,1329.4 993.8,1329.5 997.8,1329.5 1001.8,1329.6 1005.8,1329.6 1009.8,1329.7 1013.8,1329.7 1017.8,1329.7 1021.8,1329.8 1025.8,1329.8 1029.8,1329.8 1033.8,1329.9 1037.8,1329.9 1041.8,1329.9 1045.8,1330.0 1049.8,1330.0 1053.8,1330.0 1057.8,1330.0 1061.8,1330.0 1065.8,1330.1 1069.8,1330.1 1073.8,1330.1 1077.8,1330.1 1081.8,1330.1 1085.8,1330.1 1089.8,1330.1 1093.8,1330.1 1097.8,1330.1 1101.8,1330.1 1105.8,1330.1 1109.8,1330.1 1113.8,1330.1 1117.8,1330.1 1121.8,1330.1 1125.8,1330.0 1129.8,1330.0 1133.8,1330.0 1137.8,1330.0 1141.8,1329.9 1145.8,1329.9 1149.8,1329.9 1153.8,1329.8 1157.8,1329.8 1161.8,1329.7 1165.8,1329.7 1169.8,1329.6 1173.8,1329.6 1177.8,1329.5 1181.8,1329.5 1185.8,1329.4 1189.8,1329.3 1193.8,1329.3 1197.8,1329.2 1201.8,1329.1 1205.8,1329.0 1209.8,1328.9 1213.8,1328.8 1217.8,1328.7 1221.8,1328.6 1225.8,1328.5 1229.8,1328.4 1233.8,1328.3 1237.8,1328.2 1241.8,1328.1 1245.8,1328.0 1249.8,1327.8 1253.8,1327.7 1257.8,1327.6 1261.8,1327.4 1265.8,1327.3 1269.8,1327.1 1273.8,1327.0 1277.8,1326.8 1281.8,1326.7 1285.8,1326.5 1289.7,1326.3 1293.7,1326.2 1297.7,1326.0 1301.7,1325.8 1305.7,1325.6 1309.7,1325.4 1313.7,1325.2 1317.7,1325.0 1321.7,1324.8 1325.7,1324.6 1329.7,1324.4 1333.7,1324.1 1337.7,1323.9 1341.7,1323.7 1345.7,1323.4 1349.7,1323.2 1353.7,1322.9 1357.6,1322.7 1361.6,1322.4 1365.6,1322.1 1369.6,1321.9 1373.6,1321.6 1377.6,1321.3 1381.6,1321.0 1385.6,1320.7 1389.6,1320.4 1393.5,1320.1 1397.5,1319.7 1401.5,1319.4 1405.5,1319.0 1409.5,1318.7 1413.5,1318.3 1417.4,1317.9 1421.4,1317.4 1425.4,1317.0 1429.4,1316.5 1433.3,1316.0 1437.3,1315.5 1441.3,1315.0 1445.2,1314.4 1449.2,1313.9 1453.1,1313.2 1457.1,1312.6 1461.0,1312.0 1465.0,1311.3 1468.9,1310.6 1472.8,1309.8 1476.8,1309.0 1480.7,1308.2 1484.6,1307.4 1488.5,1306.5 1492.4,1305.6 1496.3,1304.6 1500.1,1303.6 1504.0,1302.6 1507.8,1301.5 1511.7,1300.4 1515.5,1299.3 1519.3,1298.1 1523.1,1296.9 1526.9,1295.6 1530.7,1294.3 1534.5,1292.9 1538.2,1291.5 1542.0,1290.1 1545.7,1288.6 1549.4,1287.0 1553.0,1285.4 1556.7,1283.8 1560.3,1282.1 1563.9,1280.4 1567.5,1278.6 1571.1,1276.8 1574.6,1274.9 1578.1,1273.0 1581.6,1271.0 1585.0,1269.0 1588.4,1266.9 1591.8,1264.7 1595.1,1262.5 1598.4,1260.2 1601.6,1257.9 1604.8,1255.5 1608.0,1253.0 1611.1,1250.5 1614.2,1247.9 1617.1,1245.3 1620.1,1242.5 1622.9,1239.8 1625.7,1236.9 1628.5,1234.0 1631.1,1231.0 1633.7,1227.9 1636.2,1224.8 1638.6,1221.6 1640.9,1218.4 1643.1,1215.0 1645.3,1211.6 1647.3,1208.2 1649.2,1204.7 1651.0,1201.1 1652.7,1197.5 1654.3,1193.8 1655.8,1190.1 1657.2,1186.4 1658.5,1182.6 1659.8,1178.8 1661.0,1175.0 1662.2,1171.2 1663.3,1167.3 1664.5,1163.5 1665.6,1159.7 1666.7,1155.8 1667.8,1152.0 1668.9,1148.1 1670.1,1144.3 1671.2,1140.5 1672.4,1136.6 1673.5,1132.8 1674.7,1129.0 1675.8,1125.1 1677.0,1121.3 1678.1,1117.5 1679.2,1113.6 1680.4,1109.8 1681.5,1106.0 1682.6,1102.1 1683.7,1098.3 1684.8,1094.4 1685.9,1090.6 1686.9,1086.7 1688.0,1082.9 1689.0,1079.0 1690.0,1075.1 1690.9,1071.2 1691.9,1067.4 1692.8,1063.5 1693.7,1059.6 1694.5,1055.7 1695.4,1051.7 1696.2,1047.8 1697.0,1043.9 1697.7,1040.0 1698.4,1036.0 1699.1,1032.1 1699.8,1028.2 1700.5,1024.2 1701.1,1020.3 1701.8,1016.3 1702.4,1012.4 1703.0,1008.4 1703.6,1004.5 1704.2,1000.5 1704.8,996.6 1705.4,992.6 1706.0,988.6 1706.6,984.7 1707.1,980.7 1707.7,976.8 1708.3,972.8 1708.9,968.9 1709.5,964.9 1710.0,960.9 1710.6,957.0 1711.2,953.0 1711.8,949.1 1712.4,945.1 1713.0,941.2 1713.5,937.2 1714.1,933.2 1714.7,929.3 1715.3,925.3 1715.9,921.4 1716.5,917.4 1717.0,913.5 1717.6,909.5 1718.2,905.5 1718.7,901.6 1719.3,897.6 1719.9,893.7 1720.4,889.7 1721.0,885.7 1721.5,881.8 1722.1,877.8 1722.6,873.9 1723.2,869.9 1723.7,865.9 1724.3,862.0 1724.8,858.0 1725.3,854.0 1725.8,850.1 1726.3,846.1 1726.9,842.1 1727.4,838.2 1727.9,834.2 1728.4,830.2 1728.9,826.3 1729.3,822.3 1729.8,818.3 1730.3,814.4 1730.8,810.4 1731.3,806.4 1731.7,802.4 1732.2,798.5 1732.7,794.5 1733.1,790.5 1733.6,786.6 1734.1,782.6 1734.5,778.6 1735.0,774.6 1735.4,770.7 1735.8,766.7 1736.3,762.7 1736.7,758.7 1737.1,754.8 1737.6,750.8 1738.0,746.8 1738.4,742.8 1738.8,738.9 1739.3,734.9 1739.7,730.9 1740.1,726.9 1740.5,722.9 1740.9,719.0 1741.3,715.0 1741.7,711.0 1742.1,707.0 1742.5,703.0 1742.9,699.1 1743.3,695.1 1743.7,691.1 1744.1,687.1 1744.5,683.1 1744.8,679.2 1745.2,675.2 1745.6,671.2 1746.0,667.2 1746.4,663.2 1746.7,659.3 1747.1,655.3 1747.5,651.3 1747.8,647.3 1748.2,643.3 1748.6,639.3 1748.9,635.4 1749.3,631.4 1749.7,627.4 1750.0,623.4 1750.4,619.4 1750.7,615.4 1751.1,611.5 1751.4,607.5 1751.8,603.5 1752.1,599.5 1752.5,595.5 1752.8,591.5 1753.2,587.6 1753.5,583.6 1753.9,579.6 1754.2,575.6 1754.6,571.6 1754.9,567.6 1755.3,563.6 1755.6,559.7 1756.0,555.7 1756.3,551.7 1756.7,547.7 1757.0,543.7 1757.4,539.7 1757.8,535.8 1758.1,531.8 1758.5,527.8 1758.8,523.8 1759.2,519.8 1759.5,515.8 1759.9,511.9 1760.3,507.9 1760.6,503.9 1761.0,499.9 1761.4,495.9 1761.7,491.9 1762.1,488.0 1762.5,484.0 1762.9,480.0 1763.2,476.0 1763.6,472.0 1764.0,468.1 1764.4,464.1 1764.8,460.1 1765.2,456.1 1765.6,452.1 1766.0,448.2 1766.4,444.2 1766.8,440.2 1767.2,436.2 1767.6,432.2 1768.0,428.3 1768.4,424.3 1768.8,420.3 1769.3,416.3 1769.7,412.4 1770.1,408.4 1770.6,404.4 1771.0,400.4 1771.5,396.5 1771.9,392.5 1772.4,388.5 1772.8,384.5 1773.3,380.6 1773.8,376.6 1774.2,372.6 1774.7,368.6 1775.2,364.7 1775.7,360.7 1776.2,356.7 1776.7,352.8 1777.2,348.8 1777.7,344.8 1778.2,340.9 1778.8,336.9 1779.3,332.9 1779.8,329.0 1780.4,325.0 1780.9,321.1 1781.5,317.1 1782.1,313.1 1782.7,309.2 1783.3,305.2 1783.9,301.3 1784.5,297.3 1785.1,293.4 1785.7,289.4 1786.4,285.5 1787.0,281.5 1787.7,277.6 1788.4,273.6 1789.0,269.7 1789.7,265.8 1790.4,261.8 1791.0,257.9 1791.7,253.9 1792.3,250.0 1792.9,246.0 1793.5,242.1 1794.0,238.1 1794.6,234.1 1795.1,230.2 1795.8,226.2 1796.8,222.3 1798.0,218.5 1799.6,214.9 1801.6,211.4 1804.3,208.5 1808.0,208.5 1811.0,211.2 1813.3,214.5 1815.2,217.9 1816.9,221.6 1818.2,225.4 1819.3,229.2 1820.1,233.1 1820.9,237.0 1821.6,241.0 1822.2,244.9 1822.9,248.9 1823.6,252.8 1824.3,256.7 1825.1,260.7 1825.9,264.6 1826.6,268.5 1827.4,272.4 1828.2,276.4 1828.9,280.3 1829.7,284.2 1830.4,288.2 1831.1,292.1 1831.8,296.0 1832.5,300.0 1833.1,303.9 1833.8,307.9 1834.4,311.8 1835.1,315.8 1835.7,319.7 1836.3,323.7 1836.9,327.6 1837.5,331.6 1838.1,335.5 1838.6,339.5 1839.2,343.5 1839.7,347.4 1840.3,351.4 1840.8,355.3 1841.3,359.3 1841.8,363.3 1842.4,367.2 1842.9,371.2 1843.4,375.2 1843.9,379.1 1844.3,383.1 1844.8,387.1 1845.3,391.1 1845.8,395.0 1846.3,399.0 1846.7,403.0 1847.2,406.9 1847.7,410.9 1848.1,414.9 1848.6,418.9 1849.0,422.8 1849.5,426.8 1849.9,430.8 1850.4,434.8 1850.8,438.7 1851.3,442.7 1851.7,446.7 1852.2,450.6 1852.7,454.6 1853.1,458.6 1853.6,462.6 1854.0,466.5 1854.5,470.5 1855.0,474.5 1855.5,478.5 1855.9,482.4 1856.4,486.4 1856.9,490.4 1857.4,494.3 1857.9,498.3 1858.3,502.3 1858.8,506.2 1859.3,510.2 1859.8,514.2 1860.3,518.2 1860.8,522.1 1861.3,526.1 1861.8,530.1 1862.3,534.0 1862.8,538.0 1863.4,542.0 1863.9,545.9 1864.4,549.9 1864.9,553.9 1865.4,557.8 1865.9,561.8 1866.5,565.8 1867.0,569.7 1867.5,573.7 1868.0,577.6 1868.6,581.6 1869.1,585.6 1869.6,589.5 1870.2,593.5 1870.7,597.5 1871.2,601.4 1871.8,605.4 1872.3,609.4 1872.9,613.3 1873.4,617.3 1874.0,621.2 1874.5,625.2 1875.0,629.2 1875.6,633.1 1876.1,637.1 1876.7,641.1 1877.2,645.0 1877.8,649.0 1878.4,652.9 1878.9,656.9 1879.5,660.9 1880.0,664.8 1880.6,668.8 1881.1,672.7 1881.7,676.7 1882.3,680.7 1882.8,684.6 1883.4,688.6 1883.9,692.5 1884.5,696.5 1885.1,700.5 1885.6,704.4 1886.2,708.4 1886.7,712.3 1887.3,716.3 1887.9,720.3 1888.4,724.2 1889.0,728.2 1889.6,732.1 1890.1,736.1 1890.7,740.1 1891.3,744.0 1891.8,748.0 1892.4,751.9 1893.0,755.9 1893.5,759.9 1894.1,763.8 1894.7,767.8 1895.2,771.7 1895.8,775.7 1896.4,779.6 1896.9,783.6 1897.5,787.6 1898.1,791.5 1898.6,795.5 1899.2,799.4 1899.7,803.4 1900.3,807.4 1900.9,811.3 1901.4,815.3 1902.0,819.2 1902.6,823.2 1903.2,827.2 1903.7,831.1 1904.3,835.1 1904.9,839.0 1905.4,843.0 1906.0,847.0 1906.6,850.9 1907.1,854.9 1907.7,858.8 1908.3,862.8 1908.9,866.7 1909.4,870.7 1910.0,874.7 1910.6,878.6 1911.2,882.6 1911.7,886.5 1912.3,890.5 1912.9,894.4 1913.5,898.4 1914.1,902.4 1914.7,906.3 1915.2,910.3 1915.8,914.2 1916.4,918.2 1917.0,922.1 1917.6,926.1 1918.2,930.1 1918.8,934.0 1919.4,938.0 1920.0,941.9 1920.6,945.9 1921.2,949.8 1921.8,953.8 1922.4,957.7 1923.0,961.7 1923.6,965.6 1924.2,969.6 1924.8,973.5 1925.4,977.5 1926.0,981.5 1926.6,985.4 1927.2,989.4 1927.9,993.3 1928.5,997.3 1929.1,1001.2 1929.8,1005.2 1930.4,1009.1 1931.0,1013.1 1931.7,1017.0 1932.3,1020.9 1933.0,1024.9 1933.6,1028.8 1934.3,1032.8 1935.0,1036.7 1935.6,1040.7 1936.3,1044.6 1937.0,1048.5 1937.7,1052.5 1938.4,1056.4 1939.1,1060.4 1939.8,1064.3 1940.5,1068.2 1941.2,1072.2 1942.0,1076.1 1942.7,1080.0 1943.4,1084.0 1944.2,1087.9 1944.9,1091.8 1945.7,1095.7 1946.5,1099.7 1947.2,1103.6 1948.0,1107.5 1948.8,1111.4 1949.6,1115.4 1950.4,1119.3 1951.3,1123.2 1952.1,1127.1 1952.9,1131.0 1953.8,1134.9 1954.6,1138.8 1955.5,1142.7 1956.4,1146.6 1957.3,1150.5 1958.2,1154.4 1959.1,1158.3 1960.0,1162.2 1960.9,1166.1 1961.8,1170.0 1962.8,1173.9 1963.7,1177.8 1964.7,1181.6 1965.7,1185.5 1966.7,1189.4 1967.7,1193.3 1968.7,1197.1 1969.7,1201.0 1970.8,1204.9 1971.8,1208.7 1972.9,1212.6 1974.0,1216.4 1975.2,1220.2 1976.4,1224.1 1977.6,1227.9 1978.9,1231.7 1980.2,1235.4 1981.6,1239.2 1983.1,1242.9 1984.6,1246.6 1986.2,1250.2 1987.9,1253.9 1989.7,1257.4 1991.6,1261.0 1993.6,1264.5 1995.6,1267.9 1997.8,1271.2 2000.1,1274.5 2002.5,1277.7 2005.0,1280.9 2007.6,1283.9 2010.3,1286.9 2013.1,1289.7 2016.0,1292.4 2019.0,1295.1 2022.1,1297.6 2025.3,1300.0 2028.6,1302.2" stroke="#000" stroke-width="7.8"/>
<g fill="#000" stroke="none"><rect x="275.8" y="1315.8" width="28.5" height="28.5"/><rect x="330.6" y="1313.2" width="28.5" height="28.5"/><rect x="391.6" y="1312.2" width="28.5" height="28.5"/><rect x="450.1" y="1312.2" width="28.5" height="28.5"/><rect x="511.5" y="1310.2" width="28.5" height="28.5"/><rect x="571.6" y="1309.7" width="28.5" height="28.5"/><rect x="631.5" y="1311.2" width="28.5" height="28.5"/><rect x="691.2" y="1312.2" width="28.5" height="28.5"/><rect x="751.2" y="1312.2" width="28.5" height="28.5"/><rect x="811.8" y="1312.8" width="28.5" height="28.5"/><rect x="871.8" y="1312.8" width="28.5" height="28.5"/><rect x="931.8" y="1314.2" width="28.5" height="28.5"/><rect x="991.4" y="1315.0" width="28.5" height="28.5"/><rect x="1052.0" y="1315.7" width="28.5" height="28.5"/><rect x="1112.5" y="1315.7" width="28.5" height="28.5"/><rect x="1171.8" y="1315.7" width="28.5" height="28.5"/><rect x="1231.8" y="1315.2" width="28.5" height="28.5"/><rect x="1293.0" y="1312.2" width="28.5" height="28.5"/><rect x="1353.2" y="1306.2" width="28.5" height="28.5"/><rect x="1414.2" y="1300.2" width="28.5" height="28.5"/><rect x="1473.2" y="1292.8" width="28.5" height="28.5"/><rect x="1533.3" y="1275.8" width="28.5" height="28.5"/><rect x="1594.0" y="1242.2" width="28.5" height="28.5"/><rect x="1651.8" y="1141.0" width="28.5" height="28.5"/><rect x="1713.0" y="812.8" width="28.5" height="28.5"/><rect x="1774.2" y="240.8" width="28.5" height="28.5"/><rect x="1835.3" y="414.9" width="28.5" height="28.5"/><rect x="1894.5" y="856.8" width="28.5" height="28.5"/><rect x="1953.8" y="1184.3" width="28.5" height="28.5"/></g>
<path d="M290.0,1321.9 294.0,1321.8 298.0,1321.6 302.0,1321.5 306.0,1321.4 310.0,1321.2 313.9,1321.1 317.9,1321.0 321.9,1320.9 325.9,1320.8 329.9,1320.7 333.9,1320.6 337.9,1320.5 341.9,1320.4 345.9,1320.3 349.9,1320.2 353.9,1320.1 357.9,1320.1 361.9,1320.0 365.9,1319.9 369.9,1319.8 373.9,1319.8 377.9,1319.7 381.9,1319.7 385.9,1319.6 389.9,1319.5 393.9,1319.5 397.9,1319.4 401.9,1319.4 405.9,1319.4 409.9,1319.3 413.8,1319.3 417.8,1319.2 421.8,1319.2 425.8,1319.2 429.8,1319.2 433.8,1319.1 437.8,1319.1 441.8,1319.1 445.8,1319.1 449.8,1319.1 453.8,1319.1 457.8,1319.1 461.8,1319.1 465.8,1319.1 469.8,1319.0 473.8,1319.1 477.8,1319.1 481.8,1319.1 485.8,1319.1 489.8,1319.1 493.8,1319.1 497.8,1319.1 501.8,1319.1 505.8,1319.1 509.8,1319.2 513.8,1319.2 517.8,1319.2 521.8,1319.2 525.8,1319.3 529.8,1319.3 533.8,1319.3 537.7,1319.3 541.7,1319.4 545.7,1319.4 549.7,1319.4 553.7,1319.5 557.7,1319.5 561.7,1319.6 565.7,1319.6 569.7,1319.6 573.7,1319.7 577.7,1319.7 581.7,1319.8 585.7,1319.8 589.7,1319.9 593.7,1319.9 597.7,1320.0 601.7,1320.0 605.7,1320.1 609.7,1320.1 613.7,1320.2 617.7,1320.2 621.7,1320.3 625.7,1320.4 629.7,1320.4 633.7,1320.5 637.7,1320.5 641.7,1320.6 645.7,1320.7 649.6,1320.7 653.6,1320.8 657.6,1320.8 661.6,1320.9 665.6,1321.0 669.6,1321.0 673.6,1321.1 677.6,1321.1 681.6,1321.2 685.6,1321.3 689.6,1321.3 693.6,1321.4 697.6,1321.5 701.6,1321.5 705.6,1321.6 709.6,1321.6 713.6,1321.7 717.6,1321.8 721.6,1321.8 725.6,1321.9 729.6,1322.0 733.6,1322.0 737.6,1322.1 741.6,1322.1 745.6,1322.2 749.6,1322.3 753.6,1322.3 757.5,1322.4 761.5,1322.4 765.5,1322.5 769.5,1322.6 773.5,1322.6 777.5,1322.7 781.5,1322.7 785.5,1322.8 789.5,1322.8 793.5,1322.9 797.5,1322.9 801.5,1323.0 805.5,1323.0 809.5,1323.1 813.5,1323.1 817.5,1323.2 821.5,1323.2 825.5,1323.3 829.5,1323.3 833.5,1323.4 837.5,1323.4 841.5,1323.4 845.5,1323.5 849.5,1323.5 853.5,1323.6 857.5,1323.6 861.5,1323.6 865.5,1323.7 869.4,1323.7 873.4,1323.7 877.4,1323.8 881.4,1323.8 885.4,1323.8 889.4,1323.9 893.4,1323.9 897.4,1323.9 901.4,1324.0 905.4,1324.0 909.4,1324.0 913.4,1324.1 917.4,1324.1 921.4,1324.1 925.4,1324.1 929.4,1324.1 933.4,1324.2 937.4,1324.2 941.4,1324.2 945.4,1324.2 949.4,1324.2 953.4,1324.3 957.4,1324.3 961.4,1324.3 965.4,1324.3 969.4,1324.3 973.4,1324.3 977.4,1324.3 981.4,1324.4 985.4,1324.4 989.3,1324.4 993.3,1324.4 997.3,1324.4 1001.3,1324.4 1005.3,1324.4 1009.3,1324.4 1013.3,1324.4 1017.3,1324.4 1021.3,1324.4 1025.3,1324.4 1029.3,1324.4 1033.3,1324.4 1037.3,1324.4 1041.3,1324.4 1045.3,1324.4 1049.3,1324.4 1053.3,1324.4 1057.3,1324.4 1061.3,1324.3 1065.3,1324.3 1069.3,1324.3 1073.3,1324.3 1077.3,1324.3 1081.3,1324.3 1085.3,1324.3 1089.3,1324.2 1093.3,1324.2 1097.3,1324.2 1101.3,1324.2 1105.3,1324.2 1109.3,1324.1 1113.2,1324.1 1117.2,1324.1 1121.2,1324.1 1125.2,1324.0 1129.2,1324.0 1133.2,1324.0 1137.2,1323.9 1141.2,1323.9 1145.2,1323.9 1149.2,1323.8 1153.2,1323.8 1157.2,1323.8 1161.2,1323.7 1165.2,1323.7 1169.2,1323.6 1173.2,1323.6 1177.2,1323.5 1181.2,1323.5 1185.2,1323.5 1189.2,1323.4 1193.2,1323.4 1197.2,1323.3 1201.2,1323.3 1205.2,1323.2 1209.2,1323.1 1213.2,1323.1 1217.2,1323.0 1221.2,1323.0 1225.2,1322.9 1229.1,1322.9 1233.1,1322.8 1237.1,1322.7 1241.1,1322.7 1245.1,1322.6 1249.1,1322.5 1253.1,1322.5 1257.1,1322.4 1261.1,1322.3 1265.1,1322.2 1269.1,1322.2 1273.1,1322.1 1277.1,1322.0 1281.1,1321.9 1285.1,1321.8 1289.1,1321.7 1293.1,1321.6 1297.1,1321.5 1301.1,1321.4 1305.1,1321.3 1309.1,1321.1 1313.1,1321.0 1317.1,1320.8 1321.0,1320.7 1325.0,1320.5 1329.0,1320.3 1333.0,1320.1 1337.0,1319.9 1341.0,1319.7 1345.0,1319.5 1349.0,1319.3 1353.0,1319.0 1357.0,1318.7 1360.9,1318.5 1364.9,1318.2 1368.9,1317.8 1372.9,1317.5 1376.9,1317.2 1380.9,1316.8 1384.8,1316.4 1388.8,1316.1 1392.8,1315.6 1396.8,1315.2 1400.7,1314.8 1404.7,1314.3 1408.7,1313.8 1412.6,1313.3 1416.6,1312.8 1420.6,1312.2 1424.5,1311.7 1428.5,1311.1 1432.4,1310.4 1436.4,1309.8 1440.3,1309.1 1444.2,1308.5 1448.2,1307.7 1452.1,1307.0 1456.0,1306.2 1459.9,1305.5 1463.9,1304.7 1467.8,1303.8 1471.7,1302.9 1475.6,1302.1 1479.5,1301.1 1483.3,1300.2 1487.2,1299.2 1491.1,1298.2 1494.9,1297.2 1498.8,1296.1 1502.6,1295.0 1506.5,1293.9 1510.3,1292.7 1514.1,1291.5 1517.9,1290.3 1521.7,1288.9 1525.4,1287.6 1529.2,1286.2 1532.9,1284.7 1536.6,1283.2 1540.2,1281.6 1543.9,1279.9 1547.5,1278.2 1551.0,1276.3 1554.6,1274.5 1558.0,1272.5 1561.5,1270.4 1564.8,1268.3 1568.2,1266.1 1571.4,1263.8 1574.6,1261.4 1577.8,1258.9 1580.8,1256.3 1583.8,1253.6 1586.7,1250.9 1589.5,1248.0 1592.2,1245.1 1594.9,1242.1 1597.5,1239.1 1600.0,1236.0 1602.4,1232.8 1604.8,1229.6 1607.1,1226.3 1609.3,1223.0 1611.5,1219.7 1613.6,1216.3 1615.7,1212.8 1617.7,1209.4 1619.6,1205.9 1621.5,1202.4 1623.3,1198.8 1625.1,1195.2 1626.8,1191.6 1628.4,1188.0 1630.1,1184.3 1631.6,1180.6 1633.1,1176.9 1634.6,1173.2 1636.0,1169.5 1637.4,1165.7 1638.7,1162.0 1640.1,1158.2 1641.3,1154.4 1642.6,1150.6 1643.8,1146.8 1644.9,1143.0 1646.1,1139.1 1647.2,1135.3 1648.3,1131.5 1649.4,1127.6 1650.4,1123.7 1651.4,1119.9 1652.4,1116.0 1653.4,1112.2 1654.4,1108.3 1655.4,1104.4 1656.4,1100.5 1657.3,1096.6 1658.3,1092.8 1659.2,1088.9 1660.1,1085.0 1661.0,1081.1 1661.9,1077.2 1662.8,1073.3 1663.6,1069.4 1664.5,1065.5 1665.3,1061.6 1666.2,1057.7 1667.0,1053.8 1667.8,1049.8 1668.6,1045.9 1669.4,1042.0 1670.2,1038.1 1671.0,1034.2 1671.7,1030.2 1672.5,1026.3 1673.2,1022.4 1674.0,1018.5 1674.7,1014.5 1675.4,1010.6 1676.1,1006.7 1676.8,1002.7 1677.5,998.8 1678.2,994.9 1678.9,990.9 1679.6,987.0 1680.2,983.0 1680.9,979.1 1681.5,975.2 1682.2,971.2 1682.8,967.3 1683.5,963.3 1684.1,959.4 1684.7,955.4 1685.3,951.5 1685.9,947.5 1686.6,943.6 1687.2,939.6 1687.8,935.7 1688.4,931.7 1688.9,927.8 1689.5,923.8 1690.1,919.9 1690.7,915.9 1691.3,912.0 1691.8,908.0 1692.4,904.0 1693.0,900.1 1693.5,896.1 1694.1,892.2 1694.6,888.2 1695.2,884.3 1695.8,880.3 1696.3,876.3 1696.9,872.4 1697.4,868.4 1698.0,864.5 1698.5,860.5 1699.1,856.5 1699.6,852.6 1700.1,848.6 1700.7,844.7 1701.2,840.7 1701.8,836.8 1702.3,832.8 1702.8,828.8 1703.4,824.9 1703.9,820.9 1704.4,816.9 1705.0,813.0 1705.5,809.0 1706.0,805.1 1706.6,801.1 1707.1,797.1 1707.6,793.2 1708.1,789.2 1708.7,785.3 1709.2,781.3 1709.7,777.3 1710.2,773.4 1710.7,769.4 1711.2,765.4 1711.7,761.5 1712.3,757.5 1712.8,753.5 1713.3,749.6 1713.8,745.6 1714.3,741.6 1714.8,737.7 1715.3,733.7 1715.8,729.7 1716.3,725.8 1716.7,721.8 1717.2,717.8 1717.7,713.9 1718.2,709.9 1718.7,705.9 1719.2,702.0 1719.6,698.0 1720.1,694.0 1720.6,690.1 1721.1,686.1 1721.5,682.1 1722.0,678.2 1722.5,674.2 1722.9,670.2 1723.4,666.3 1723.8,662.3 1724.3,658.3 1724.7,654.3 1725.2,650.4 1725.6,646.4 1726.1,642.4 1726.5,638.5 1727.0,634.5 1727.4,630.5 1727.8,626.5 1728.3,622.6 1728.7,618.6 1729.1,614.6 1729.5,610.6 1730.0,606.7 1730.4,602.7 1730.8,598.7 1731.2,594.7 1731.6,590.8 1732.0,586.8 1732.5,582.8 1732.9,578.8 1733.3,574.9 1733.7,570.9 1734.1,566.9 1734.5,562.9 1734.9,559.0 1735.3,555.0 1735.7,551.0 1736.1,547.0 1736.6,543.1 1737.0,539.1 1737.4,535.1 1737.8,531.1 1738.2,527.2 1738.6,523.2 1739.0,519.2 1739.4,515.2 1739.9,511.3 1740.3,507.3 1740.7,503.3 1741.1,499.3 1741.5,495.4 1741.9,491.4 1742.4,487.4 1742.8,483.4 1743.2,479.5 1743.7,475.5 1744.1,471.5 1744.5,467.5 1745.0,463.6 1745.4,459.6 1745.9,455.6 1746.3,451.7 1746.8,447.7 1747.2,443.7 1747.7,439.7 1748.2,435.8 1748.6,431.8 1749.1,427.8 1749.6,423.9 1750.1,419.9 1750.5,415.9 1751.0,412.0 1751.5,408.0 1752.0,404.0 1752.5,400.1 1753.1,396.1 1753.6,392.1 1754.1,388.2 1754.6,384.2 1755.1,380.3 1755.7,376.3 1756.2,372.3 1756.8,368.4 1757.3,364.4 1757.9,360.5 1758.5,356.5 1759.1,352.6 1759.6,348.6 1760.2,344.7 1760.8,340.7 1761.5,336.8 1762.1,332.8 1762.7,328.9 1763.3,324.9 1764.0,321.0 1764.7,317.0 1765.3,313.1 1766.0,309.1 1766.7,305.2 1767.4,301.3 1768.1,297.3 1768.9,293.4 1769.6,289.5 1770.4,285.6 1771.2,281.6 1771.9,277.7 1772.8,273.8 1773.6,269.9 1774.5,266.0 1775.5,262.1 1776.6,258.3 1777.7,254.5 1779.0,250.7 1780.3,246.9 1781.8,243.2 1783.5,239.6 1785.6,236.2 1788.7,233.7 1792.5,234.3 1795.5,236.9 1798.0,240.0 1800.1,243.4 1801.9,247.0 1803.4,250.7 1804.6,254.5 1805.5,258.4 1806.2,262.3 1806.8,266.2 1807.3,270.2 1807.8,274.2 1808.2,278.2 1808.7,282.1 1809.1,286.1 1809.6,290.1 1810.2,294.0 1810.7,298.0 1811.2,301.9 1811.8,305.9 1812.4,309.9 1813.0,313.8 1813.6,317.8 1814.2,321.7 1814.8,325.7 1815.5,329.6 1816.1,333.5 1816.8,337.5 1817.4,341.4 1818.1,345.4 1818.8,349.3 1819.4,353.3 1820.1,357.2 1820.8,361.1 1821.4,365.1 1822.1,369.0 1822.8,373.0 1823.4,376.9 1824.1,380.8 1824.7,384.8 1825.3,388.7 1826.0,392.7 1826.6,396.6 1827.2,400.6 1827.9,404.5 1828.5,408.5 1829.1,412.4 1829.7,416.4 1830.3,420.3 1830.9,424.3 1831.5,428.2 1832.0,432.2 1832.6,436.1 1833.2,440.1 1833.8,444.0 1834.4,448.0 1834.9,452.0 1835.5,455.9 1836.0,459.9 1836.6,463.8 1837.1,467.8 1837.7,471.8 1838.2,475.7 1838.8,479.7 1839.3,483.6 1839.9,487.6 1840.4,491.6 1840.9,495.5 1841.5,499.5 1842.0,503.4 1842.5,507.4 1843.0,511.4 1843.6,515.3 1844.1,519.3 1844.6,523.2 1845.1,527.2 1845.6,531.2 1846.2,535.1 1846.7,539.1 1847.2,543.1 1847.7,547.0 1848.2,551.0 1848.7,555.0 1849.2,558.9 1849.7,562.9 1850.2,566.8 1850.7,570.8 1851.2,574.8 1851.8,578.7 1852.3,582.7 1852.8,586.7 1853.3,590.6 1853.8,594.6 1854.3,598.6 1854.8,602.5 1855.3,606.5 1855.8,610.5 1856.3,614.4 1856.8,618.4 1857.3,622.4 1857.9,626.3 1858.4,630.3 1858.9,634.2 1859.4,638.2 1859.9,642.2 1860.4,646.1 1860.9,650.1 1861.4,654.1 1862.0,658.0 1862.5,662.0 1863.0,666.0 1863.5,669.9 1864.0,673.9 1864.5,677.8 1865.1,681.8 1865.6,685.8 1866.1,689.7 1866.6,693.7 1867.1,697.7 1867.6,701.6 1868.2,705.6 1868.7,709.5 1869.2,713.5 1869.7,717.5 1870.3,721.4 1870.8,725.4 1871.3,729.4 1871.8,733.3 1872.3,737.3 1872.9,741.2 1873.4,745.2 1873.9,749.2 1874.5,753.1 1875.0,757.1 1875.5,761.1 1876.0,765.0 1876.6,769.0 1877.1,772.9 1877.6,776.9 1878.2,780.9 1878.7,784.8 1879.2,788.8 1879.8,792.7 1880.3,796.7 1880.8,800.7 1881.4,804.6 1881.9,808.6 1882.4,812.5 1883.0,816.5 1883.5,820.5 1884.0,824.4 1884.6,828.4 1885.1,832.3 1885.7,836.3 1886.2,840.3 1886.8,844.2 1887.3,848.2 1887.8,852.1 1888.4,856.1 1888.9,860.1 1889.5,864.0 1890.0,868.0 1890.6,871.9 1891.1,875.9 1891.7,879.9 1892.2,883.8 1892.8,887.8 1893.3,891.7 1893.9,895.7 1894.4,899.7 1895.0,903.6 1895.5,907.6 1896.1,911.5 1896.7,915.5 1897.2,919.4 1897.8,923.4 1898.3,927.4 1898.9,931.3 1899.5,935.3 1900.0,939.2 1900.6,943.2 1901.1,947.1 1901.7,951.1 1902.3,955.1 1902.8,959.0 1903.4,963.0 1904.0,966.9 1904.5,970.9 1905.1,974.8 1905.7,978.8 1906.3,982.7 1906.8,986.7 1907.4,990.7 1908.0,994.6 1908.6,998.6 1909.1,1002.5 1909.7,1006.5 1910.3,1010.4 1910.9,1014.4 1911.5,1018.3 1912.0,1022.3 1912.6,1026.3 1913.2,1030.2 1913.8,1034.2 1914.4,1038.1 1915.0,1042.1 1915.5,1046.0 1916.1,1050.0 1916.7,1053.9 1917.3,1057.9 1917.9,1061.8 1918.5,1065.8 1919.2,1069.7 1919.8,1073.7 1920.4,1077.6 1921.0,1081.6 1921.7,1085.5 1922.3,1089.5 1923.0,1093.4 1923.7,1097.3 1924.3,1101.3 1925.0,1105.2 1925.8,1109.1 1926.5,1113.1 1927.2,1117.0 1928.0,1120.9 1928.7,1124.9 1929.5,1128.8 1930.3,1132.7 1931.1,1136.6 1932.0,1140.5 1932.8,1144.4 1933.7,1148.3 1934.6,1152.2 1935.5,1156.1 1936.5,1160.0 1937.4,1163.9 1938.4,1167.7 1939.4,1171.6 1940.5,1175.5 1941.6,1179.3 1942.6,1183.1 1943.8,1187.0 1944.9,1190.8 1946.1,1194.6 1947.3,1198.4 1948.5,1202.2 1949.8,1206.0 1951.1,1209.8 1952.4,1213.6 1953.7,1217.4 1955.1,1221.1 1956.6,1224.8 1958.0,1228.6 1959.5,1232.3 1961.0,1236.0 1962.6,1239.6 1964.2,1243.3 1965.8,1247.0 1967.5,1250.6 1969.2,1254.2 1970.9,1257.8 1972.7,1261.4 1974.5,1265.0 1976.3,1268.5 1978.2,1272.0 1980.2,1275.5 1982.3,1278.9 1984.4,1282.3 1986.6,1285.6 1988.9,1288.9 1991.4,1292.0 1994.0,1295.1 1996.7,1298.0 1999.5,1300.8 2002.5,1303.5 2005.7,1305.9 2009.0,1308.1 2012.5,1310.2 2016.0,1311.9 2019.7,1313.5 2023.5,1314.7 2027.4,1315.8 2031.3,1316.5" stroke="#00f" stroke-width="7.8"/>
<g fill="#00f" stroke="none"><rect x="275.8" y="1308.8" width="28.5" height="28.5"/><rect x="335.8" y="1305.2" width="28.5" height="28.5"/><rect x="395.2" y="1304.0" width="28.5" height="28.5"/><rect x="454.8" y="1303.8" width="28.5" height="28.5"/><rect x="515.5" y="1305.2" width="28.5" height="28.5"/><rect x="576.0" y="1306.0" width="28.5" height="28.5"/><rect x="636.4" y="1308.0" width="28.5" height="28.5"/><rect x="696.8" y="1309.2" width="28.5" height="28.5"/><rect x="756.8" y="1308.5" width="28.5" height="28.5"/><rect x="816.8" y="1308.5" width="28.5" height="28.5"/><rect x="876.8" y="1308.5" width="28.5" height="28.5"/><rect x="936.2" y="1308.5" width="28.5" height="28.5"/><rect x="996.8" y="1308.5" width="28.5" height="28.5"/><rect x="1057.8" y="1310.5" width="28.5" height="28.5"/><rect x="1117.8" y="1310.5" width="28.5" height="28.5"/><rect x="1177.2" y="1310.5" width="28.5" height="28.5"/><rect x="1237.2" y="1309.8" width="28.5" height="28.5"/><rect x="1297.8" y="1305.8" width="28.5" height="28.5"/><rect x="1357.8" y="1302.8" width="28.5" height="28.5"/><rect x="1418.2" y="1295.8" width="28.5" height="28.5"/><rect x="1477.8" y="1284.2" width="28.5" height="28.5"/><rect x="1539.2" y="1261.8" width="28.5" height="28.5"/><rect x="1598.2" y="1202.3" width="28.5" height="28.5"/><rect x="1659.0" y="1006.5" width="28.5" height="28.5"/><rect x="1717.7" y="556.1" width="28.5" height="28.5"/><rect x="1778.0" y="222.6" width="28.5" height="28.5"/><rect x="1838.5" y="578.9" width="28.5" height="28.5"/><rect x="1899.0" y="1025.5" width="28.5" height="28.5"/><rect x="1959.5" y="1249.7" width="28.5" height="28.5"/></g>
<path d="M290.0,1309.9 294.0,1309.8 298.0,1309.8 302.0,1309.8 306.0,1309.8 310.0,1309.8 314.0,1309.8 318.0,1309.8 322.0,1309.8 326.0,1309.8 330.0,1309.8 334.0,1309.9 338.0,1309.9 342.0,1309.9 346.0,1309.9 350.0,1310.0 354.0,1310.0 358.0,1310.0 362.0,1310.1 366.0,1310.1 370.0,1310.2 374.0,1310.2 378.0,1310.3 382.0,1310.4 385.9,1310.4 389.9,1310.5 393.9,1310.5 397.9,1310.6 401.9,1310.7 405.9,1310.8 409.9,1310.8 413.9,1310.9 417.9,1311.0 421.9,1311.1 425.9,1311.2 429.9,1311.3 433.9,1311.4 437.9,1311.5 441.9,1311.6 445.9,1311.7 449.9,1311.8 453.9,1311.9 457.9,1312.0 461.9,1312.1 465.9,1312.2 469.9,1312.3 473.9,1312.4 477.9,1312.5 481.9,1312.6 485.9,1312.7 489.9,1312.9 493.9,1313.0 497.9,1313.1 501.9,1313.2 505.9,1313.3 509.9,1313.5 513.9,1313.6 517.9,1313.7 521.9,1313.8 525.9,1313.9 529.9,1314.1 533.9,1314.2 537.9,1314.3 541.9,1314.5 545.9,1314.6 549.9,1314.7 553.9,1314.8 557.9,1315.0 561.8,1315.1 565.8,1315.2 569.8,1315.4 573.8,1315.5 577.8,1315.6 581.8,1315.7 585.8,1315.9 589.8,1316.0 593.8,1316.1 597.8,1316.3 601.8,1316.4 605.8,1316.5 609.8,1316.6 613.8,1316.8 617.8,1316.9 621.8,1317.0 625.8,1317.1 629.8,1317.3 633.8,1317.4 637.8,1317.5 641.8,1317.6 645.8,1317.7 649.8,1317.9 653.8,1318.0 657.8,1318.1 661.8,1318.2 665.8,1318.3 669.8,1318.4 673.8,1318.5 677.8,1318.7 681.8,1318.8 685.8,1318.9 689.8,1319.0 693.8,1319.1 697.8,1319.2 701.8,1319.3 705.8,1319.4 709.8,1319.4 713.8,1319.5 717.7,1319.6 721.7,1319.7 725.7,1319.8 729.7,1319.9 733.7,1320.0 737.7,1320.1 741.7,1320.1 745.7,1320.2 749.7,1320.3 753.7,1320.4 757.7,1320.4 761.7,1320.5 765.7,1320.6 769.7,1320.7 773.7,1320.7 777.7,1320.8 781.7,1320.9 785.7,1320.9 789.7,1321.0 793.7,1321.1 797.7,1321.1 801.7,1321.2 805.7,1321.2 809.7,1321.3 813.7,1321.3 817.7,1321.4 821.7,1321.5 825.7,1321.5 829.7,1321.6 833.7,1321.6 837.7,1321.6 841.7,1321.7 845.7,1321.7 849.7,1321.8 853.7,1321.8 857.7,1321.9 861.7,1321.9 865.7,1321.9 869.7,1322.0 873.7,1322.0 877.7,1322.1 881.7,1322.1 885.7,1322.1 889.7,1322.2 893.7,1322.2 897.7,1322.2 901.7,1322.3 905.7,1322.3 909.7,1322.3 913.7,1322.3 917.7,1322.4 921.7,1322.4 925.7,1322.4 929.7,1322.4 933.7,1322.5 937.7,1322.5 941.7,1322.5 945.7,1322.5 949.7,1322.6 953.7,1322.6 957.7,1322.6 961.7,1322.6 965.7,1322.6 969.7,1322.6 973.7,1322.7 977.7,1322.7 981.7,1322.7 985.7,1322.7 989.7,1322.7 993.7,1322.7 997.7,1322.7 1001.7,1322.8 1005.7,1322.8 1009.7,1322.8 1013.7,1322.8 1017.7,1322.8 1021.7,1322.8 1025.7,1322.8 1029.7,1322.8 1033.7,1322.8 1037.7,1322.8 1041.7,1322.8 1045.7,1322.8 1049.7,1322.8 1053.7,1322.9 1057.7,1322.9 1061.7,1322.9 1065.7,1322.9 1069.7,1322.9 1073.7,1322.9 1077.7,1322.9 1081.7,1322.9 1085.6,1322.9 1089.6,1322.9 1093.6,1322.9 1097.6,1322.9 1101.6,1322.9 1105.6,1322.9 1109.6,1322.9 1113.6,1322.9 1117.6,1322.9 1121.6,1322.9 1125.6,1322.9 1129.6,1322.9 1133.6,1322.9 1137.6,1322.9 1141.6,1322.9 1145.6,1322.9 1149.6,1322.9 1153.6,1322.9 1157.6,1322.9 1161.6,1322.9 1165.6,1322.9 1169.6,1322.9 1173.6,1322.9 1177.6,1322.9 1181.6,1322.9 1185.6,1322.9 1189.6,1322.9 1193.6,1322.9 1197.6,1322.9 1201.6,1322.9 1205.6,1322.8 1209.6,1322.8 1213.6,1322.8 1217.6,1322.8 1221.6,1322.7 1225.6,1322.7 1229.6,1322.7 1233.6,1322.6 1237.6,1322.6 1241.6,1322.5 1245.6,1322.4 1249.6,1322.4 1253.6,1322.3 1257.6,1322.2 1261.6,1322.1 1265.6,1322.0 1269.6,1321.9 1273.6,1321.7 1277.6,1321.6 1281.6,1321.5 1285.6,1321.3 1289.6,1321.1 1293.6,1321.0 1297.6,1320.8 1301.6,1320.6 1305.6,1320.4 1309.6,1320.1 1313.5,1319.9 1317.5,1319.7 1321.5,1319.4 1325.5,1319.1 1329.5,1318.8 1333.5,1318.5 1337.5,1318.2 1341.5,1317.9 1345.4,1317.5 1349.4,1317.1 1353.4,1316.8 1357.4,1316.4 1361.4,1315.9 1365.3,1315.5 1369.3,1315.1 1373.3,1314.6 1377.3,1314.1 1381.2,1313.6 1385.2,1313.1 1389.2,1312.5 1393.1,1312.0 1397.1,1311.4 1401.0,1310.8 1405.0,1310.2 1408.9,1309.5 1412.9,1308.9 1416.8,1308.2 1420.7,1307.5 1424.7,1306.8 1428.6,1306.0 1432.5,1305.2 1436.4,1304.3 1440.3,1303.5 1444.2,1302.5 1448.1,1301.6 1452.0,1300.6 1455.8,1299.5 1459.7,1298.4 1463.5,1297.2 1467.3,1296.0 1471.1,1294.7 1474.8,1293.3 1478.6,1291.9 1482.3,1290.4 1486.0,1288.9 1489.6,1287.2 1493.2,1285.5 1496.8,1283.7 1500.3,1281.9 1503.8,1279.9 1507.3,1277.9 1510.7,1275.7 1514.0,1273.5 1517.2,1271.2 1520.4,1268.8 1523.6,1266.3 1526.6,1263.7 1529.6,1261.0 1532.5,1258.3 1535.3,1255.4 1538.0,1252.5 1540.6,1249.5 1543.1,1246.4 1545.6,1243.2 1548.0,1240.0 1550.2,1236.7 1552.4,1233.3 1554.6,1230.0 1556.6,1226.5 1558.6,1223.1 1560.5,1219.5 1562.4,1216.0 1564.2,1212.4 1565.9,1208.8 1567.5,1205.2 1569.1,1201.5 1570.7,1197.8 1572.1,1194.1 1573.5,1190.4 1574.9,1186.6 1576.2,1182.8 1577.5,1179.0 1578.7,1175.2 1579.9,1171.4 1581.0,1167.6 1582.2,1163.7 1583.3,1159.9 1584.4,1156.0 1585.4,1152.2 1586.5,1148.3 1587.6,1144.5 1588.6,1140.6 1589.7,1136.8 1590.8,1132.9 1591.9,1129.1 1592.9,1125.2 1594.0,1121.4 1595.0,1117.5 1596.1,1113.6 1597.2,1109.8 1598.2,1105.9 1599.2,1102.1 1600.3,1098.2 1601.3,1094.3 1602.3,1090.5 1603.3,1086.6 1604.3,1082.7 1605.3,1078.8 1606.2,1074.9 1607.2,1071.1 1608.1,1067.2 1609.0,1063.3 1609.9,1059.4 1610.8,1055.5 1611.7,1051.6 1612.5,1047.7 1613.4,1043.8 1614.2,1039.9 1615.0,1035.9 1615.8,1032.0 1616.6,1028.1 1617.4,1024.2 1618.2,1020.3 1618.9,1016.3 1619.7,1012.4 1620.5,1008.5 1621.2,1004.6 1622.0,1000.6 1622.8,996.7 1623.5,992.8 1624.3,988.9 1625.0,984.9 1625.8,981.0 1626.6,977.1 1627.4,973.2 1628.1,969.2 1628.9,965.3 1629.7,961.4 1630.6,957.5 1631.4,953.6 1632.2,949.7 1633.1,945.8 1633.9,941.8 1634.8,937.9 1635.7,934.1 1636.7,930.2 1637.6,926.3 1638.5,922.4 1639.5,918.5 1640.5,914.6 1641.5,910.7 1642.4,906.9 1643.5,903.0 1644.5,899.1 1645.5,895.3 1646.5,891.4 1647.6,887.5 1648.6,883.7 1649.6,879.8 1650.7,876.0 1651.7,872.1 1652.8,868.2 1653.9,864.4 1654.9,860.5 1656.0,856.7 1657.0,852.8 1658.1,849.0 1659.1,845.1 1660.2,841.2 1661.2,837.4 1662.2,833.5 1663.3,829.7 1664.3,825.8 1665.3,821.9 1666.3,818.0 1667.3,814.2 1668.3,810.3 1669.3,806.4 1670.2,802.5 1671.2,798.7 1672.2,794.8 1673.2,790.9 1674.1,787.0 1675.1,783.1 1676.1,779.3 1677.1,775.4 1678.1,771.5 1679.1,767.7 1680.1,763.8 1681.2,759.9 1682.2,756.1 1683.3,752.2 1684.4,748.4 1685.5,744.5 1686.6,740.7 1687.7,736.8 1688.9,733.0 1690.1,729.2 1691.3,725.4 1692.5,721.6 1693.8,717.8 1695.1,714.0 1696.5,710.3 1697.8,706.5 1699.3,702.8 1700.7,699.0 1702.2,695.3 1703.7,691.6 1705.2,687.9 1706.7,684.2 1708.3,680.5 1709.8,676.8 1711.4,673.2 1712.9,669.5 1714.5,665.8 1716.0,662.1 1717.5,658.4 1719.0,654.7 1720.5,651.0 1721.9,647.2 1723.3,643.5 1724.7,639.7 1726.0,635.9 1727.2,632.1 1728.5,628.3 1729.7,624.5 1731.0,620.7 1732.2,616.9 1733.5,613.2 1734.8,609.4 1736.2,605.6 1737.6,601.9 1739.1,598.2 1740.7,594.5 1742.3,590.8 1744.0,587.2 1745.9,583.7 1747.8,580.2 1749.9,576.8 1752.1,573.4 1754.4,570.2 1756.8,567.0 1759.4,563.9 1762.2,561.1 1765.2,558.5 1768.6,556.3 1772.2,554.6 1776.1,553.7 1780.1,553.6 1784.0,554.4 1787.7,556.0 1791.1,558.1 1794.0,560.8 1796.6,563.8 1798.8,567.2 1800.7,570.7 1802.4,574.3 1803.8,578.0 1805.1,581.8 1806.3,585.6 1807.4,589.5 1808.5,593.3 1809.6,597.2 1810.7,601.0 1811.8,604.9 1812.9,608.7 1814.0,612.6 1815.1,616.4 1816.1,620.3 1817.2,624.1 1818.2,628.0 1819.1,631.9 1820.0,635.8 1820.9,639.7 1821.8,643.6 1822.6,647.5 1823.4,651.4 1824.2,655.3 1825.0,659.3 1825.7,663.2 1826.5,667.1 1827.3,671.0 1828.1,675.0 1828.8,678.9 1829.6,682.8 1830.4,686.7 1831.2,690.6 1832.0,694.6 1832.8,698.5 1833.5,702.4 1834.3,706.3 1835.1,710.3 1835.9,714.2 1836.7,718.1 1837.5,722.0 1838.3,725.9 1839.1,729.9 1839.9,733.8 1840.7,737.7 1841.4,741.6 1842.2,745.5 1843.0,749.5 1843.8,753.4 1844.6,757.3 1845.4,761.2 1846.2,765.1 1846.9,769.1 1847.7,773.0 1848.5,776.9 1849.3,780.8 1850.0,784.8 1850.8,788.7 1851.6,792.6 1852.3,796.5 1853.1,800.5 1853.9,804.4 1854.6,808.3 1855.4,812.2 1856.1,816.2 1856.9,820.1 1857.6,824.0 1858.4,828.0 1859.1,831.9 1859.8,835.8 1860.6,839.7 1861.3,843.7 1862.0,847.6 1862.7,851.6 1863.4,855.5 1864.1,859.4 1864.8,863.4 1865.5,867.3 1866.2,871.2 1866.9,875.2 1867.5,879.1 1868.2,883.1 1868.9,887.0 1869.5,891.0 1870.2,894.9 1870.8,898.8 1871.5,902.8 1872.1,906.7 1872.8,910.7 1873.4,914.6 1874.0,918.6 1874.7,922.5 1875.3,926.5 1875.9,930.4 1876.5,934.4 1877.1,938.3 1877.8,942.3 1878.4,946.2 1879.0,950.2 1879.6,954.1 1880.2,958.1 1880.8,962.0 1881.4,966.0 1882.0,970.0 1882.7,973.9 1883.3,977.9 1883.9,981.8 1884.5,985.8 1885.1,989.7 1885.7,993.7 1886.3,997.6 1886.9,1001.6 1887.6,1005.5 1888.2,1009.5 1888.8,1013.4 1889.4,1017.4 1890.0,1021.3 1890.7,1025.3 1891.3,1029.2 1891.9,1033.2 1892.6,1037.1 1893.2,1041.1 1893.9,1045.0 1894.5,1049.0 1895.2,1052.9 1895.8,1056.8 1896.5,1060.8 1897.2,1064.7 1897.8,1068.7 1898.5,1072.6 1899.2,1076.6 1899.9,1080.5 1900.6,1084.4 1901.3,1088.4 1902.0,1092.3 1902.7,1096.2 1903.5,1100.2 1904.2,1104.1 1904.9,1108.0 1905.7,1112.0 1906.4,1115.9 1907.2,1119.8 1908.0,1123.7 1908.8,1127.7 1909.6,1131.6 1910.4,1135.5 1911.3,1139.4 1912.1,1143.3 1913.0,1147.2 1913.9,1151.1 1914.8,1155.0 1915.8,1158.9 1916.7,1162.8 1917.7,1166.6 1918.8,1170.5 1919.8,1174.4 1920.9,1178.2 1922.0,1182.1 1923.1,1185.9 1924.3,1189.7 1925.5,1193.5 1926.7,1197.3 1927.9,1201.1 1929.2,1204.9 1930.6,1208.7 1931.9,1212.4 1933.3,1216.2 1934.8,1219.9 1936.3,1223.6 1937.8,1227.3 1939.4,1231.0 1941.0,1234.7 1942.7,1238.3 1944.4,1241.9 1946.1,1245.5 1947.9,1249.1 1949.8,1252.6 1951.7,1256.1 1953.6,1259.6 1955.6,1263.1 1957.7,1266.5 1959.8,1269.9 1961.9,1273.3 1964.1,1276.7 1966.4,1280.0 1968.7,1283.2 1971.0,1286.4 1973.5,1289.6 1976.0,1292.7 1978.7,1295.7 1981.4,1298.6 1984.2,1301.5 1987.2,1304.2 1990.2,1306.8 1993.4,1309.2 1996.7,1311.5 2000.1,1313.6 2003.6,1315.5 2007.2,1317.2 2010.9,1318.6 2014.7,1319.9 2018.6,1320.9 2022.5,1321.7 2026.5,1322.3 2030.4,1322.6" stroke="#f00" stroke-width="7.8"/>
<g fill="#f00" stroke="none"><rect x="282.8" y="1295.8" width="28.5" height="28.5"/><rect x="310.2" y="1295.8" width="28.5" height="28.5"/><rect x="370.4" y="1295.5" width="28.5" height="28.5"/><rect x="430.2" y="1296.8" width="28.5" height="28.5"/><rect x="489.8" y="1298.7" width="28.5" height="28.5"/><rect x="550.0" y="1302.2" width="28.5" height="28.5"/><rect x="609.9" y="1303.0" width="28.5" height="28.5"/><rect x="669.6" y="1305.5" width="28.5" height="28.5"/><rect x="730.0" y="1306.0" width="28.5" height="28.5"/><rect x="790.5" y="1306.5" width="28.5" height="28.5"/><rect x="851.4" y="1306.5" width="28.5" height="28.5"/><rect x="910.5" y="1307.7" width="28.5" height="28.5"/><rect x="970.5" y="1308.0" width="28.5" height="28.5"/><rect x="1030.8" y="1309.2" width="28.5" height="28.5"/><rect x="1090.2" y="1309.2" width="28.5" height="28.5"/><rect x="1151.0" y="1309.2" width="28.5" height="28.5"/><rect x="1211.0" y="1309.2" width="28.5" height="28.5"/><rect x="1271.5" y="1305.5" width="28.5" height="28.5"/><rect x="1332.2" y="1303.0" width="28.5" height="28.5"/><rect x="1391.7" y="1295.8" width="28.5" height="28.5"/><rect x="1451.8" y="1282.8" width="28.5" height="28.5"/><rect x="1512.0" y="1248.5" width="28.5" height="28.5"/><rect x="1572.8" y="1132.2" width="28.5" height="28.5"/><rect x="1631.2" y="874.6" width="28.5" height="28.5"/><rect x="1692.5" y="668.0" width="28.5" height="28.5"/><rect x="1753.0" y="543.1" width="28.5" height="28.5"/><rect x="1812.8" y="650.2" width="28.5" height="28.5"/><rect x="1871.8" y="985.4" width="28.5" height="28.5"/><rect x="1932.0" y="1231.8" width="28.5" height="28.5"/><rect x="1992.8" y="1301.2" width="28.5" height="28.5"/></g>
</g>
<g font-size="53.5" fill="#000">
<text x="371.2" y="1446.5" text-anchor="middle">50</text><text x="771.9" y="1446.5" text-anchor="middle">100</text><text x="1172.6" y="1446.5" text-anchor="middle">150</text><text x="1573.3" y="1446.5" text-anchor="middle">200</text><text x="1974.0" y="1446.5" text-anchor="middle">250</text>
<text x="247.0" y="1373.8" text-anchor="end">0</text><text x="247.0" y="1200.2" text-anchor="end">500</text><text x="247.0" y="1026.6" text-anchor="end">1000</text><text x="247.0" y="853.0" text-anchor="end">1500</text><text x="247.0" y="679.4" text-anchor="end">2000</text><text x="247.0" y="505.8" text-anchor="end">2500</text><text x="247.0" y="332.2" text-anchor="end">3000</text><text x="247.0" y="158.6" text-anchor="end">3500</text>
<text x="2082.0" y="1375.3">0.0</text><text x="2082.0" y="1212.5">0.1</text><text x="2082.0" y="1049.7">0.2</text><text x="2082.0" y="886.9">0.3</text><text x="2082.0" y="724.1">0.4</text><text x="2082.0" y="561.3">0.5</text><text x="2082.0" y="398.5">0.6</text><text x="2082.0" y="235.7">0.7</text><text x="2082.0" y="72.9">0.8</text>
</g>
<text font-size="65.0" transform="translate(74.8,719.5) rotate(-90)" text-anchor="middle">Storage Modulus [MPa]</text>
<text font-size="65.0" transform="translate(2234.8,744.4) rotate(-90)" text-anchor="middle">Tan Delta</text>
<rect x="356.4" y="709.5" width="1072.2" height="397.5" fill="#fff" stroke="#000" stroke-width="5.0"/>
<line x1="377.0" y1="744.3" x2="502.4" y2="744.3" stroke="#000" stroke-width="7.5"/><text x="510.9" y="763.1" font-size="45.5" font-weight="bold" fill="#000" textLength="640.3" lengthAdjust="spacingAndGlyphs">RTM6 neat [Storage Modulus]</text>
<line x1="375.0" y1="807.8" x2="497.4" y2="807.8" stroke="#000" stroke-width="7.5"/><rect x="421.6" y="793.5" width="28.5" height="28.5" fill="#000"/><text x="508.6" y="826.6" font-size="45.5" font-weight="bold" fill="#000" textLength="473.5" lengthAdjust="spacingAndGlyphs">RTM6 neat [Tan Delta]</text>
<line x1="377.0" y1="872.2" x2="502.4" y2="872.2" stroke="#00f" stroke-width="7.5"/><text x="510.2" y="891.0" font-size="45.5" font-weight="bold" fill="#000" textLength="862.2" lengthAdjust="spacingAndGlyphs">RTM6 + 1wt% CSNPs [Storage Modulus]</text>
<line x1="375.0" y1="939.5" x2="497.4" y2="939.5" stroke="#00f" stroke-width="7.5"/><rect x="421.6" y="925.2" width="28.5" height="28.5" fill="#00f"/><text x="507.4" y="958.3" font-size="45.5" font-weight="bold" fill="#000" textLength="699.0" lengthAdjust="spacingAndGlyphs">RTM6 + 1wt% CSNPs [Tan Delta]</text>
<line x1="377.0" y1="1001.5" x2="502.4" y2="1001.5" stroke="#f00" stroke-width="7.5"/><text x="510.5" y="1020.3" font-size="45.5" font-weight="bold" fill="#000" textLength="899.0" lengthAdjust="spacingAndGlyphs">RTM6 + 2.5wt% CSNPs [Storage Modulus]</text>
<line x1="375.0" y1="1064.7" x2="497.4" y2="1064.7" stroke="#f00" stroke-width="7.5"/><rect x="421.6" y="1050.5" width="28.5" height="28.5" fill="#f00"/><text x="507.4" y="1083.5" font-size="45.5" font-weight="bold" fill="#000" textLength="736.8" lengthAdjust="spacingAndGlyphs">RTM6 + 2.5wt% CSNPs [Tan Delta]</text>
</svg>
</body></html>
